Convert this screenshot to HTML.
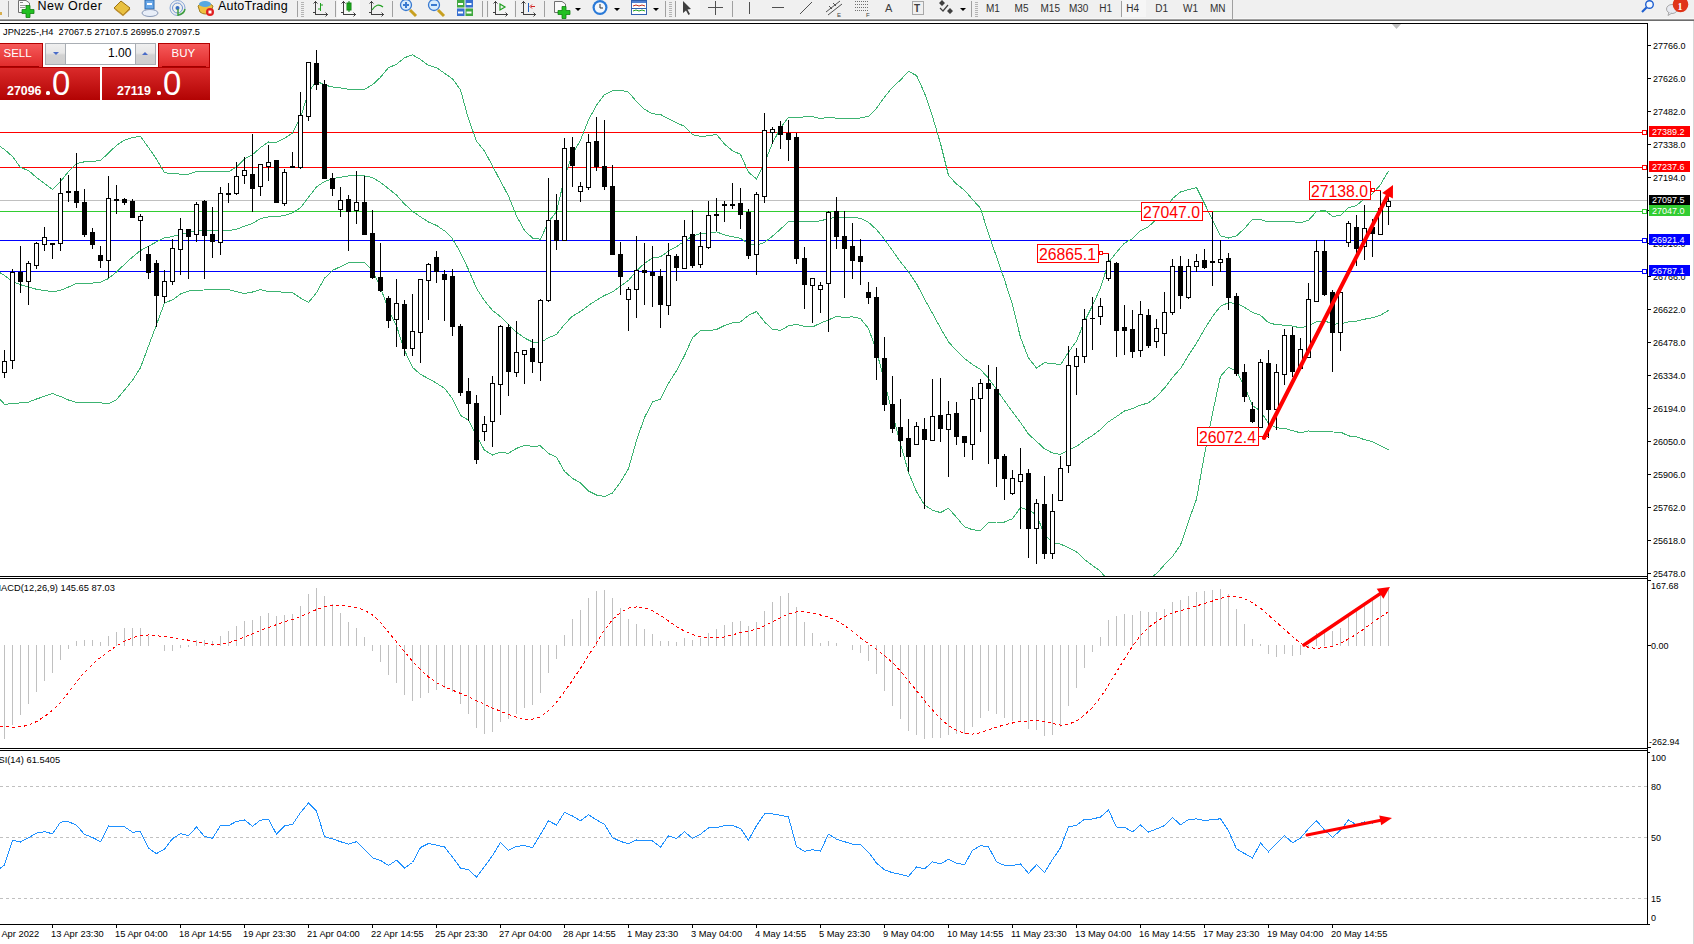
<!DOCTYPE html>
<html><head><meta charset="utf-8"><style>
html,body{margin:0;padding:0;}
body{width:1694px;height:944px;overflow:hidden;position:relative;background:#fff;font-family:"Liberation Sans", sans-serif;}
.tb{position:absolute;left:0;top:0;width:1694px;height:19px;background:#f0f0f0;}
.tbl1{position:absolute;left:0;top:19px;width:1694px;height:1px;background:#a0a0a0;}
.tbl2{position:absolute;left:0;top:20px;width:1694px;height:1px;background:#6d6d6d;}
.rb{position:absolute;left:1693px;top:21px;width:1px;height:923px;background:#d8d8d8;}
svg{position:absolute;left:0;top:0;}
.t{position:absolute;white-space:nowrap;}
</style></head><body>
<div class="tb"></div><div class="t" style="left:0;top:18px;width:1694px;height:1px;background:#f7f7f7;"></div><svg width="1694" height="19" viewBox="0 0 1694 19" style="position:absolute;left:0;top:0" font-family='"Liberation Sans", sans-serif'>
<rect x="0" y="12" width="2" height="3" fill="#d8b050"/>
<line x1="8.5" y1="1" x2="8.5" y2="17" stroke="#a0a0a0" shape-rendering="crispEdges"/>
<path d="M18.5,0.5 H26 L29.5,3 V12.5 H18.5 Z" fill="#fafafa" stroke="#707070"/>
<rect x="20" y="2" width="3" height="1" fill="#888"/><rect x="20" y="5" width="7" height="1" fill="#999"/><rect x="20" y="7" width="5" height="1" fill="#999"/>
<path d="M26,5.5 h4 v4 h4 v4 h-4 v4 h-4 v-4 h-4 v-4 h4 z" fill="#22c022" stroke="#108010" stroke-width="0.8"/>
<text x="37.5" y="10" font-size="12.5" fill="#000" letter-spacing="0.5">New Order</text>
<path d="M114,8 L121,1 L130,8 L123,15 Z" fill="#e8c040" stroke="#9a7010" stroke-width="1"/>
<path d="M115,9 L123,15.5 L130,9" fill="none" stroke="#c09030" stroke-width="1.2"/>
<rect x="145" y="0" width="9" height="9" fill="#6aa8e8" stroke="#2a6ab0"/>
<rect x="147" y="3" width="5" height="2" fill="#fff"/>
<ellipse cx="150" cy="13" rx="8" ry="3.5" fill="#e8eef8" stroke="#8a9ab8"/>
<circle cx="177.5" cy="8" r="7.5" fill="none" stroke="#8aa8d8" stroke-width="1"/>
<circle cx="177.5" cy="8" r="5" fill="none" stroke="#6a90d0" stroke-width="1"/>
<circle cx="177.5" cy="8" r="2" fill="#3a70c0"/>
<path d="M178,9 V16 M178,15 Q184,14 185,9" fill="none" stroke="#40a040" stroke-width="1.5"/>
<path d="M198,6 Q205,-2 213,6 L211,12 Q205,16 200,12 Z" fill="#f0c040" stroke="#a08020"/>
<ellipse cx="205" cy="4" rx="6" ry="3" fill="#58a8e0"/>
<circle cx="210" cy="12" r="4" fill="#e02020"/><rect x="208.5" y="10.5" width="3" height="3" fill="#fff"/>
<text x="218" y="10" font-size="12.5" fill="#000" letter-spacing="0.2">AutoTrading</text>
<line x1="297.5" y1="1" x2="297.5" y2="17" stroke="#a0a0a0" shape-rendering="crispEdges"/>
<rect x="301" y="2" width="3" height="1" fill="#b4b4b4"/>
<rect x="301" y="4" width="3" height="1" fill="#b4b4b4"/>
<rect x="301" y="6" width="3" height="1" fill="#b4b4b4"/>
<rect x="301" y="8" width="3" height="1" fill="#b4b4b4"/>
<rect x="301" y="10" width="3" height="1" fill="#b4b4b4"/>
<rect x="301" y="12" width="3" height="1" fill="#b4b4b4"/>
<rect x="301" y="14" width="3" height="1" fill="#b4b4b4"/>
<rect x="301" y="16" width="3" height="1" fill="#b4b4b4"/>
<path d="M315.5,1 V14.5 H327.5 M313,12.5 H315.5" fill="none" stroke="#404040" stroke-width="1" shape-rendering="crispEdges"/>
<path d="M313.5,3.5 L315.5,1.5 L317.5,3.5 M325.5,12.5 L327.5,14.5 L325.5,16.5" fill="none" stroke="#404040" stroke-width="1"/>
<path d="M320.5,3 V11 M320.5,5 H323 M318,9 H320.5" stroke="#20a020" fill="none"/>
<line x1="335.5" y1="1" x2="335.5" y2="17" stroke="#a0a0a0" shape-rendering="crispEdges"/>
<rect x="337" y="0" width="23" height="18" fill="#f8f8f8"/>
<path d="M343.5,1 V14.5 H355.5 M341,12.5 H343.5" fill="none" stroke="#404040" stroke-width="1" shape-rendering="crispEdges"/>
<path d="M341.5,3.5 L343.5,1.5 L345.5,3.5 M353.5,12.5 L355.5,14.5 L353.5,16.5" fill="none" stroke="#404040" stroke-width="1"/>
<rect x="347" y="3" width="4" height="7" fill="#20c020" stroke="#108010"/><line x1="349" y1="1" x2="349" y2="12" stroke="#108010"/>
<path d="M371.5,1 V14.5 H383.5 M369,12.5 H371.5" fill="none" stroke="#404040" stroke-width="1" shape-rendering="crispEdges"/>
<path d="M369.5,3.5 L371.5,1.5 L373.5,3.5 M381.5,12.5 L383.5,14.5 L381.5,16.5" fill="none" stroke="#404040" stroke-width="1"/>
<path d="M372,10 Q377,2 383,7" fill="none" stroke="#20a020" stroke-width="1.2"/>
<line x1="392.5" y1="1" x2="392.5" y2="17" stroke="#a0a0a0" shape-rendering="crispEdges"/>
<line x1="410" y1="10" x2="416" y2="16" stroke="#c8a020" stroke-width="3"/>
<circle cx="406" cy="5" r="5.5" fill="#d8ecfc" stroke="#3a7ad0" stroke-width="1.3"/>
<rect x="403" y="4" width="6" height="2" fill="#3a7ad0"/>
<rect x="405" y="2" width="2" height="6" fill="#3a7ad0"/>
<line x1="438" y1="10" x2="444" y2="16" stroke="#c8a020" stroke-width="3"/>
<circle cx="434" cy="5" r="5.5" fill="#d8ecfc" stroke="#3a7ad0" stroke-width="1.3"/>
<rect x="431" y="4" width="6" height="2" fill="#3a7ad0"/>
<rect x="457" y="0" width="7.5" height="7.5" fill="#40a840"/><rect x="465.5" y="0" width="7.5" height="7.5" fill="#3870d0"/>
<rect x="457" y="8.5" width="7.5" height="7.5" fill="#3870d0"/><rect x="465.5" y="8.5" width="7.5" height="7.5" fill="#40a840"/>
<rect x="458" y="3" width="5" height="2" fill="#fff"/>
<rect x="466.5" y="3" width="5" height="2" fill="#fff"/>
<rect x="458" y="11.5" width="5" height="2" fill="#fff"/>
<rect x="466.5" y="11.5" width="5" height="2" fill="#fff"/>
<line x1="482.5" y1="1" x2="482.5" y2="17" stroke="#a0a0a0" shape-rendering="crispEdges"/>
<line x1="487.5" y1="1" x2="487.5" y2="17" stroke="#a0a0a0" shape-rendering="crispEdges"/>
<rect x="489" y="0" width="25" height="18" fill="#f4f4f4"/>
<path d="M495.5,1 V14.5 H507.5 M493,12.5 H495.5" fill="none" stroke="#404040" stroke-width="1" shape-rendering="crispEdges"/>
<path d="M493.5,3.5 L495.5,1.5 L497.5,3.5 M505.5,12.5 L507.5,14.5 L505.5,16.5" fill="none" stroke="#404040" stroke-width="1"/>
<polygon points="500,4 505,7 500,10" fill="none" stroke="#20a020" stroke-width="1.2"/>
<line x1="515.5" y1="1" x2="515.5" y2="17" stroke="#a0a0a0" shape-rendering="crispEdges"/>
<path d="M523.5,1 V14.5 H535.5 M521,12.5 H523.5" fill="none" stroke="#404040" stroke-width="1" shape-rendering="crispEdges"/>
<path d="M521.5,3.5 L523.5,1.5 L525.5,3.5 M533.5,12.5 L535.5,14.5 L533.5,16.5" fill="none" stroke="#404040" stroke-width="1"/>
<line x1="528.5" y1="3" x2="528.5" y2="12" stroke="#2060c0"/><path d="M535,6.5 H531 M532,4.5 L530,6.5 L532,8.5" stroke="#d02020" fill="none"/>
<line x1="544.5" y1="1" x2="544.5" y2="17" stroke="#a0a0a0" shape-rendering="crispEdges"/>
<path d="M554.5,1.5 H562 L565.5,4 V12.5 H554.5 Z" fill="#fafafa" stroke="#707070"/>
<path d="M562,6.5 h4 v4 h4 v4 h-4 v4 h-4 v-4 h-4 v-4 h4 z" fill="#22c022" stroke="#108010" stroke-width="0.8"/>
<polygon points="575,8 581,8 578,11" fill="#000"/>
<circle cx="600" cy="7.5" r="7.5" fill="#2a7ad8"/><circle cx="600" cy="7.5" r="5.3" fill="#f4f8fc"/><path d="M600,4 V8 H603" stroke="#333" fill="none"/>
<polygon points="614,8 620,8 617,11" fill="#000"/>
<rect x="631.5" y="0.5" width="15" height="14" fill="#fff" stroke="#3060b0"/><rect x="632" y="1" width="14" height="2" fill="#5080d0"/>
<path d="M633,6 l3,-1 l3,1 l3,-1 l3,1" stroke="#c03020" fill="none"/><path d="M633,11 l3,-1 l3,1 l3,-1 l3,1" stroke="#20a020" fill="none"/><line x1="632" y1="8.5" x2="646" y2="8.5" stroke="#3060b0"/>
<polygon points="653,8 659,8 656,11" fill="#000"/>
<line x1="665.5" y1="1" x2="665.5" y2="17" stroke="#a0a0a0" shape-rendering="crispEdges"/>
<rect x="669" y="2" width="3" height="1" fill="#b4b4b4"/>
<rect x="669" y="4" width="3" height="1" fill="#b4b4b4"/>
<rect x="669" y="6" width="3" height="1" fill="#b4b4b4"/>
<rect x="669" y="8" width="3" height="1" fill="#b4b4b4"/>
<rect x="669" y="10" width="3" height="1" fill="#b4b4b4"/>
<rect x="669" y="12" width="3" height="1" fill="#b4b4b4"/>
<rect x="669" y="14" width="3" height="1" fill="#b4b4b4"/>
<rect x="669" y="16" width="3" height="1" fill="#b4b4b4"/>
<line x1="675.5" y1="1" x2="675.5" y2="17" stroke="#a0a0a0" shape-rendering="crispEdges"/>
<rect x="676" y="0" width="24" height="18" fill="#f4f4f4"/>
<path d="M683,1 V13 L686,10.5 L688.5,15 L690,14 L687.5,9.5 L691,9 Z" fill="#404040"/>
<path d="M715.5,1 V15 M708,7.5 H723" stroke="#505050" fill="none" shape-rendering="crispEdges"/>
<line x1="732.5" y1="1" x2="732.5" y2="17" stroke="#a0a0a0" shape-rendering="crispEdges"/>
<line x1="749.5" y1="2" x2="749.5" y2="14" stroke="#505050" shape-rendering="crispEdges"/>
<line x1="772" y1="7.5" x2="784" y2="7.5" stroke="#505050" shape-rendering="crispEdges"/>
<line x1="800" y1="14" x2="812" y2="2" stroke="#505050"/>
<path d="M826,12 L840,1 M828,15 L842,4 M829,6 l3,3 M833,3 l3,3" stroke="#505050" fill="none"/><text x="837" y="17" font-size="6" fill="#404040">E</text>
<line x1="855" y1="1.5" x2="868" y2="1.5" stroke="#707070" stroke-dasharray="1,1"/>
<line x1="855" y1="4.5" x2="868" y2="4.5" stroke="#707070" stroke-dasharray="1,1"/>
<line x1="855" y1="7.5" x2="868" y2="7.5" stroke="#707070" stroke-dasharray="1,1"/>
<line x1="855" y1="10.5" x2="868" y2="10.5" stroke="#707070" stroke-dasharray="1,1"/>
<text x="866" y="17" font-size="6" fill="#404040">F</text>
<text x="885" y="12" font-size="11" fill="#404040">A</text>
<rect x="912.5" y="1.5" width="11" height="13" fill="none" stroke="#606060" stroke-dasharray="1,1"/><text x="914" y="12" font-size="10" font-weight="bold" fill="#404040">T</text>
<path d="M939,3 l3,-3 l3,3 l-3,3 z M947,11 l3,-3 l3,3 l-3,3 z" fill="#404040"/><path d="M940,8 l3,3 l5,-6" stroke="#404040" fill="none" stroke-width="1.2"/>
<polygon points="960,8 966,8 963,11" fill="#000"/>
<line x1="971.5" y1="1" x2="971.5" y2="17" stroke="#a0a0a0" shape-rendering="crispEdges"/>
<rect x="975" y="2" width="3" height="1" fill="#b4b4b4"/>
<rect x="975" y="4" width="3" height="1" fill="#b4b4b4"/>
<rect x="975" y="6" width="3" height="1" fill="#b4b4b4"/>
<rect x="975" y="8" width="3" height="1" fill="#b4b4b4"/>
<rect x="975" y="10" width="3" height="1" fill="#b4b4b4"/>
<rect x="975" y="12" width="3" height="1" fill="#b4b4b4"/>
<rect x="975" y="14" width="3" height="1" fill="#b4b4b4"/>
<rect x="975" y="16" width="3" height="1" fill="#b4b4b4"/>
<rect x="1122" y="0" width="24" height="17" fill="#f6f6f6"/>
<line x1="1121.5" y1="1" x2="1121.5" y2="17" stroke="#a0a0a0" shape-rendering="crispEdges"/>
<text x="986" y="12" font-size="10" fill="#303030">M1</text>
<text x="1014.6" y="12" font-size="10" fill="#303030">M5</text>
<text x="1040.5" y="12" font-size="10" fill="#303030">M15</text>
<text x="1068.9" y="12" font-size="10" fill="#303030">M30</text>
<text x="1099.3" y="12" font-size="10" fill="#303030">H1</text>
<text x="1126.3" y="12" font-size="10" fill="#303030">H4</text>
<text x="1155.3" y="12" font-size="10" fill="#303030">D1</text>
<text x="1183" y="12" font-size="10" fill="#303030">W1</text>
<text x="1209.9" y="12" font-size="10" fill="#303030">MN</text>
<line x1="1232.5" y1="0" x2="1232.5" y2="19" stroke="#a0a0a0" shape-rendering="crispEdges"/>
<circle cx="1649.5" cy="4.5" r="3.8" fill="#f4f8ff" stroke="#2060d0" stroke-width="1.4"/><line x1="1646.5" y1="7.5" x2="1642" y2="12" stroke="#2060d0" stroke-width="2.2"/>
<ellipse cx="1672" cy="9" rx="5.5" ry="4.5" fill="#e8eaf0" stroke="#a8a8a8"/><path d="M1669,12 L1668,15.5 L1672,13" fill="#e8eaf0" stroke="#a8a8a8"/>
<circle cx="1680.5" cy="4.5" r="7.8" fill="#e03418"/><text x="1677.5" y="9.5" font-size="10" font-family="Liberation Serif" font-weight="bold" fill="#fff">1</text>
</svg><div class="tbl1"></div><div class="tbl2"></div>
<div class="rb"></div>
<svg width="1694" height="944" viewBox="0 0 1694 944" font-family='"Liberation Sans", sans-serif'>
<defs><clipPath id="cm"><rect x="0" y="24" width="1647" height="552"/></clipPath><clipPath id="cd"><rect x="0" y="579" width="1647" height="169"/></clipPath><clipPath id="cr"><rect x="0" y="751" width="1647" height="173"/></clipPath></defs>
<g clip-path="url(#cm)" shape-rendering="crispEdges">
<line x1="0" y1="132.5" x2="1647" y2="132.5" stroke="#ff0000" stroke-width="1"/>
<line x1="0" y1="167.5" x2="1647" y2="167.5" stroke="#ff0000" stroke-width="1"/>
<line x1="0" y1="200.5" x2="1647" y2="200.5" stroke="#c0c0c0" stroke-width="1"/>
<line x1="0" y1="211.5" x2="1647" y2="211.5" stroke="#32cd32" stroke-width="1"/>
<line x1="0" y1="240.5" x2="1647" y2="240.5" stroke="#0000ff" stroke-width="1"/>
<line x1="0" y1="271.5" x2="1647" y2="271.5" stroke="#0000ff" stroke-width="1"/>
<rect x="1642.5" y="130.5" width="4" height="4" fill="#fff" stroke="#ff0000"/>
<rect x="1642.5" y="165.5" width="4" height="4" fill="#fff" stroke="#ff0000"/>
<rect x="1642.5" y="209.5" width="4" height="4" fill="#fff" stroke="#32cd32"/>
<rect x="1642.5" y="238.5" width="4" height="4" fill="#fff" stroke="#0000ff"/>
<rect x="1642.5" y="269.5" width="4" height="4" fill="#fff" stroke="#0000ff"/>
</g>
<g clip-path="url(#cm)" fill="none" stroke="#3cb371" stroke-width="1" shape-rendering="crispEdges">
<polyline points="0,146.5 4.5,149.5 12.5,156.5 20.5,167.5 28.5,170.5 36.5,177.5 44.5,183.5 52.5,189.5 60.5,181.5 68.5,171.5 76.5,163.5 84.5,161.8 92.5,161.5 100.5,160.5 108.5,153.1 116.5,145.3 124.5,140.1 132.5,137.5 140.5,136.5 148.5,147.5 156.5,159.1 164.5,172.8 172.5,173.4 180.5,174.1 188.5,174.3 196.5,171.4 204.5,171.4 212.5,171.3 220.5,171.3 228.5,171.7 236.5,167.0 244.5,158.9 252.5,154.7 260.5,147.6 268.5,142.0 276.5,142.2 284.5,138.4 292.5,133.1 300.5,117.6 308.5,92.1 316.5,80.9 324.5,85.1 332.5,86.9 340.5,87.9 348.5,89.3 356.5,89.4 364.5,89.4 372.5,84.7 380.5,77.3 388.5,67.7 396.5,64.3 404.5,57.7 412.5,54.9 420.5,59.5 428.5,65.4 436.5,67.6 444.5,73.3 452.5,78.8 460.5,89.8 468.5,119.0 476.5,141.1 484.5,151.0 492.5,165.9 500.5,181.1 508.5,196.0 516.5,215.9 524.5,230.5 532.5,238.0 540.5,239.3 548.5,221.7 556.5,211.8 564.5,177.6 572.5,153.8 580.5,140.2 588.5,119.9 596.5,105.3 604.5,94.6 612.5,90.7 620.5,90.2 628.5,92.1 636.5,101.5 644.5,109.2 652.5,113.8 660.5,114.5 668.5,118.8 676.5,122.7 684.5,126.4 692.5,134.8 700.5,136.3 708.5,135.9 716.5,134.3 724.5,144.1 732.5,150.7 740.5,154.4 748.5,172.2 756.5,178.9 764.5,163.0 772.5,143.1 780.5,127.9 788.5,117.3 796.5,117.7 804.5,116.9 812.5,116.7 820.5,118.5 828.5,117.5 836.5,118.1 844.5,118.1 852.5,118.3 860.5,118.0 868.5,116.3 876.5,108.3 884.5,97.0 892.5,87.3 900.5,80.0 908.5,71.4 916.5,75.5 924.5,92.9 932.5,116.6 940.5,143.5 948.5,175.5 956.5,184.0 964.5,190.2 972.5,199.5 980.5,208.3 988.5,233.9 996.5,256.8 1004.5,279.8 1012.5,304.9 1020.5,337.5 1028.5,358.0 1036.5,368.0 1044.5,362.8 1052.5,363.4 1060.5,364.8 1068.5,352.3 1076.5,341.0 1084.5,321.5 1092.5,305.5 1100.5,287.8 1108.5,262.4 1116.5,252.3 1124.5,243.1 1132.5,238.7 1140.5,230.7 1148.5,226.6 1156.5,219.3 1164.5,211.5 1172.5,198.6 1180.5,192.0 1188.5,189.6 1196.5,187.6 1204.5,203.5 1212.5,220.0 1220.5,235.9 1228.5,238.0 1236.5,235.8 1244.5,228.5 1252.5,219.3 1260.5,219.6 1268.5,221.9 1276.5,221.7 1284.5,221.9 1292.5,221.5 1300.5,222.9 1308.5,220.3 1316.5,211.6 1324.5,210.2 1332.5,216.2 1340.5,215.8 1348.5,207.8 1356.5,205.5 1364.5,198.7 1372.5,193.8 1380.5,184.7 1388.5,170.8"/>
<polyline points="0,272.7 4.5,275.5 12.5,281.5 20.5,284.7 28.5,287.0 36.5,289.3 44.5,290.5 52.5,291.8 60.5,290.3 68.5,287.0 76.5,283.3 84.5,283.1 92.5,283.1 100.5,282.3 108.5,278.5 116.5,272.0 124.5,264.3 132.5,257.0 140.5,250.5 148.5,246.2 156.5,241.9 164.5,237.9 172.5,236.6 180.5,234.1 188.5,232.7 196.5,230.8 204.5,230.7 212.5,230.5 220.5,230.5 228.5,230.6 236.5,229.3 244.5,226.2 252.5,223.4 260.5,218.6 268.5,216.8 276.5,216.9 284.5,215.4 292.5,212.9 300.5,207.8 308.5,197.3 316.5,186.8 324.5,181.6 332.5,178.7 340.5,177.2 348.5,176.0 356.5,175.9 364.5,175.8 372.5,177.6 380.5,182.4 388.5,188.7 396.5,195.1 404.5,204.0 412.5,211.2 420.5,216.9 428.5,222.0 436.5,225.4 444.5,230.8 452.5,238.8 460.5,252.6 468.5,269.6 476.5,288.3 484.5,300.7 492.5,310.4 500.5,316.7 508.5,324.7 516.5,332.2 524.5,337.9 532.5,342.1 540.5,342.6 548.5,337.7 556.5,334.5 564.5,324.4 572.5,316.1 580.5,311.5 588.5,305.4 596.5,300.2 604.5,295.5 612.5,291.9 620.5,286.1 628.5,280.4 636.5,271.0 644.5,263.3 652.5,257.9 660.5,256.8 668.5,251.0 676.5,246.7 684.5,241.0 692.5,236.2 700.5,233.5 708.5,233.2 716.5,231.9 724.5,234.8 732.5,236.8 740.5,238.2 748.5,243.8 756.5,245.2 764.5,242.4 772.5,236.2 780.5,229.1 788.5,221.6 796.5,221.0 804.5,221.6 812.5,221.8 820.5,220.8 828.5,218.7 836.5,217.2 844.5,217.8 852.5,217.5 860.5,218.3 868.5,222.4 876.5,229.5 884.5,239.4 892.5,250.6 900.5,261.9 908.5,271.9 916.5,283.6 924.5,299.0 932.5,313.4 940.5,328.1 948.5,341.8 956.5,350.7 964.5,358.5 972.5,364.6 980.5,369.5 988.5,378.3 996.5,389.4 1004.5,400.9 1012.5,411.8 1020.5,422.5 1028.5,434.1 1036.5,441.4 1044.5,448.8 1052.5,453.0 1060.5,454.4 1068.5,449.9 1076.5,446.4 1084.5,440.5 1092.5,435.6 1100.5,429.5 1108.5,421.8 1116.5,416.5 1124.5,411.0 1132.5,408.5 1140.5,405.1 1148.5,402.9 1156.5,396.5 1164.5,388.1 1172.5,377.5 1180.5,368.5 1188.5,355.4 1196.5,343.3 1204.5,329.0 1212.5,316.6 1220.5,306.1 1228.5,302.7 1236.5,303.5 1244.5,307.3 1252.5,312.5 1260.5,315.3 1268.5,322.7 1276.5,324.8 1284.5,325.1 1292.5,326.1 1300.5,327.9 1308.5,325.6 1316.5,321.7 1324.5,320.8 1332.5,324.1 1340.5,323.9 1348.5,321.8 1356.5,321.2 1364.5,319.2 1372.5,317.7 1380.5,315.2 1388.5,310.4"/>
<polyline points="0,399.2 4.5,404.3 12.5,403.7 20.5,402.8 28.5,402.1 36.5,399.0 44.5,396.3 52.5,393.6 60.5,396.5 68.5,400.0 76.5,402.5 84.5,402.7 92.5,402.8 100.5,402.9 108.5,403.7 116.5,399.7 124.5,390.0 132.5,380.3 140.5,367.7 148.5,346.0 156.5,324.6 164.5,302.9 172.5,299.9 180.5,294.0 188.5,291.1 196.5,290.1 204.5,290.0 212.5,289.7 220.5,289.7 228.5,289.5 236.5,291.7 244.5,293.5 252.5,292.0 260.5,289.6 268.5,291.6 276.5,291.6 284.5,292.3 292.5,292.6 300.5,298.0 308.5,302.4 316.5,292.7 324.5,278.2 332.5,270.4 340.5,266.6 348.5,262.6 356.5,262.4 364.5,262.2 372.5,270.5 380.5,287.6 388.5,309.8 396.5,325.9 404.5,350.3 412.5,367.4 420.5,374.4 428.5,378.6 436.5,383.2 444.5,388.3 452.5,398.7 460.5,415.4 468.5,420.3 476.5,435.6 484.5,450.3 492.5,455.0 500.5,452.3 508.5,453.3 516.5,448.4 524.5,445.4 532.5,446.3 540.5,445.9 548.5,453.6 556.5,457.2 564.5,471.3 572.5,478.4 580.5,482.8 588.5,491.0 596.5,495.0 604.5,496.5 612.5,493.0 620.5,482.0 628.5,468.7 636.5,440.5 644.5,417.5 652.5,402.0 660.5,399.2 668.5,383.2 676.5,370.7 684.5,355.6 692.5,337.6 700.5,330.7 708.5,330.6 716.5,329.5 724.5,325.5 732.5,322.9 740.5,321.9 748.5,315.4 756.5,311.5 764.5,321.9 772.5,329.3 780.5,330.3 788.5,325.9 796.5,324.3 804.5,326.4 812.5,326.9 820.5,323.2 828.5,319.9 836.5,316.3 844.5,317.5 852.5,316.8 860.5,318.6 868.5,328.4 876.5,350.8 884.5,381.8 892.5,413.9 900.5,443.8 908.5,472.4 916.5,491.6 924.5,505.1 932.5,510.1 940.5,512.6 948.5,508.2 956.5,517.3 964.5,526.9 972.5,529.7 980.5,530.7 988.5,522.7 996.5,522.0 1004.5,522.0 1012.5,518.7 1020.5,507.6 1028.5,510.2 1036.5,514.7 1044.5,534.8 1052.5,542.7 1060.5,544.1 1068.5,547.6 1076.5,551.8 1084.5,559.5 1092.5,565.6 1100.5,571.2 1108.5,581.3 1116.5,580.7 1124.5,578.8 1132.5,578.3 1140.5,579.5 1148.5,579.2 1156.5,573.6 1164.5,564.7 1172.5,556.5 1180.5,545.1 1188.5,521.3 1196.5,499.1 1204.5,454.6 1212.5,413.2 1220.5,376.3 1228.5,367.4 1236.5,371.2 1244.5,386.2 1252.5,405.7 1260.5,411.0 1268.5,423.5 1276.5,427.9 1284.5,428.3 1292.5,430.7 1300.5,432.8 1308.5,430.9 1316.5,431.8 1324.5,431.5 1332.5,432.0 1340.5,432.1 1348.5,435.9 1356.5,436.8 1364.5,439.7 1372.5,441.6 1380.5,445.6 1388.5,449.9"/>
</g>
<g clip-path="url(#cm)" shape-rendering="crispEdges">
<line x1="4.5" y1="350" x2="4.5" y2="378" stroke="#000"/>
<rect x="2.5" y="361.5" width="4" height="11" fill="#fff" stroke="#000"/>
<line x1="12.5" y1="269" x2="12.5" y2="369" stroke="#000"/>
<rect x="10.5" y="272.5" width="4" height="88" fill="#fff" stroke="#000"/>
<line x1="20.5" y1="246" x2="20.5" y2="293" stroke="#000"/>
<rect x="18" y="272" width="5" height="10" fill="#000"/>
<line x1="28.5" y1="261" x2="28.5" y2="305" stroke="#000"/>
<rect x="26.5" y="263.5" width="4" height="18" fill="#fff" stroke="#000"/>
<line x1="36.5" y1="242" x2="36.5" y2="269" stroke="#000"/>
<rect x="34.5" y="243.5" width="4" height="22" fill="#fff" stroke="#000"/>
<line x1="44.5" y1="227" x2="44.5" y2="251" stroke="#000"/>
<rect x="42.5" y="237.5" width="4" height="7" fill="#fff" stroke="#000"/>
<line x1="52.5" y1="243" x2="52.5" y2="259" stroke="#000"/>
<rect x="50" y="243" width="5" height="2" fill="#000"/>
<line x1="60.5" y1="178" x2="60.5" y2="251" stroke="#000"/>
<rect x="58.5" y="193.5" width="4" height="50" fill="#fff" stroke="#000"/>
<line x1="68.5" y1="175" x2="68.5" y2="202" stroke="#000"/>
<rect x="66.5" y="191.5" width="4" height="1" fill="#fff" stroke="#000"/>
<line x1="76.5" y1="153" x2="76.5" y2="208" stroke="#000"/>
<rect x="74" y="191" width="5" height="12" fill="#000"/>
<line x1="84.5" y1="189" x2="84.5" y2="237" stroke="#000"/>
<rect x="82" y="202" width="5" height="33" fill="#000"/>
<line x1="92.5" y1="228" x2="92.5" y2="249" stroke="#000"/>
<rect x="90" y="232" width="5" height="13" fill="#000"/>
<line x1="100.5" y1="246" x2="100.5" y2="268" stroke="#000"/>
<rect x="98" y="255" width="5" height="6" fill="#000"/>
<line x1="108.5" y1="176" x2="108.5" y2="278" stroke="#000"/>
<rect x="106.5" y="198.5" width="4" height="62" fill="#fff" stroke="#000"/>
<line x1="116.5" y1="185" x2="116.5" y2="214" stroke="#000"/>
<rect x="114" y="199" width="5" height="2" fill="#000"/>
<line x1="124.5" y1="198" x2="124.5" y2="205" stroke="#000"/>
<rect x="122" y="199" width="5" height="4" fill="#000"/>
<line x1="132.5" y1="199" x2="132.5" y2="218" stroke="#000"/>
<rect x="130" y="201" width="5" height="17" fill="#000"/>
<line x1="140.5" y1="214" x2="140.5" y2="261" stroke="#000"/>
<rect x="138.5" y="216.5" width="4" height="4" fill="#fff" stroke="#000"/>
<line x1="148.5" y1="246" x2="148.5" y2="279" stroke="#000"/>
<rect x="146" y="254" width="5" height="19" fill="#000"/>
<line x1="156.5" y1="260" x2="156.5" y2="327" stroke="#000"/>
<rect x="154" y="263" width="5" height="33" fill="#000"/>
<line x1="164.5" y1="270" x2="164.5" y2="303" stroke="#000"/>
<rect x="162.5" y="281.5" width="4" height="15" fill="#fff" stroke="#000"/>
<line x1="172.5" y1="239" x2="172.5" y2="285" stroke="#000"/>
<rect x="170.5" y="248.5" width="4" height="33" fill="#fff" stroke="#000"/>
<line x1="180.5" y1="218" x2="180.5" y2="275" stroke="#000"/>
<rect x="178.5" y="229.5" width="4" height="20" fill="#fff" stroke="#000"/>
<line x1="188.5" y1="229" x2="188.5" y2="279" stroke="#000"/>
<rect x="186" y="229" width="5" height="8" fill="#000"/>
<line x1="196.5" y1="202" x2="196.5" y2="242" stroke="#000"/>
<rect x="194.5" y="204.5" width="4" height="30" fill="#fff" stroke="#000"/>
<line x1="204.5" y1="200" x2="204.5" y2="279" stroke="#000"/>
<rect x="202" y="201" width="5" height="35" fill="#000"/>
<line x1="212.5" y1="207" x2="212.5" y2="258" stroke="#000"/>
<rect x="210" y="234" width="5" height="8" fill="#000"/>
<line x1="220.5" y1="187" x2="220.5" y2="255" stroke="#000"/>
<rect x="218.5" y="193.5" width="4" height="49" fill="#fff" stroke="#000"/>
<line x1="228.5" y1="183" x2="228.5" y2="203" stroke="#000"/>
<rect x="226" y="193" width="5" height="2" fill="#000"/>
<line x1="236.5" y1="162" x2="236.5" y2="195" stroke="#000"/>
<rect x="234.5" y="176.5" width="4" height="17" fill="#fff" stroke="#000"/>
<line x1="244.5" y1="157" x2="244.5" y2="184" stroke="#000"/>
<rect x="242.5" y="170.5" width="4" height="5" fill="#fff" stroke="#000"/>
<line x1="252.5" y1="134" x2="252.5" y2="212" stroke="#000"/>
<rect x="250" y="174" width="5" height="15" fill="#000"/>
<line x1="260.5" y1="164" x2="260.5" y2="196" stroke="#000"/>
<rect x="258.5" y="164.5" width="4" height="22" fill="#fff" stroke="#000"/>
<line x1="268.5" y1="145" x2="268.5" y2="181" stroke="#000"/>
<rect x="266.5" y="162.5" width="4" height="4" fill="#fff" stroke="#000"/>
<line x1="276.5" y1="160" x2="276.5" y2="203" stroke="#000"/>
<rect x="274" y="160" width="5" height="43" fill="#000"/>
<line x1="284.5" y1="169" x2="284.5" y2="206" stroke="#000"/>
<rect x="282.5" y="172.5" width="4" height="31" fill="#fff" stroke="#000"/>
<line x1="292.5" y1="152" x2="292.5" y2="168" stroke="#000"/>
<rect x="290" y="166" width="5" height="2" fill="#000"/>
<line x1="300.5" y1="92" x2="300.5" y2="169" stroke="#000"/>
<rect x="298.5" y="115.5" width="4" height="52" fill="#fff" stroke="#000"/>
<line x1="308.5" y1="62" x2="308.5" y2="121" stroke="#000"/>
<rect x="306.5" y="62.5" width="4" height="54" fill="#fff" stroke="#000"/>
<line x1="316.5" y1="50" x2="316.5" y2="90" stroke="#000"/>
<rect x="314" y="63" width="5" height="22" fill="#000"/>
<line x1="324.5" y1="80" x2="324.5" y2="179" stroke="#000"/>
<rect x="322" y="84" width="5" height="95" fill="#000"/>
<line x1="332.5" y1="173" x2="332.5" y2="196" stroke="#000"/>
<rect x="330" y="178" width="5" height="11" fill="#000"/>
<line x1="340.5" y1="187" x2="340.5" y2="217" stroke="#000"/>
<rect x="338.5" y="200.5" width="4" height="9" fill="#fff" stroke="#000"/>
<line x1="348.5" y1="195" x2="348.5" y2="251" stroke="#000"/>
<rect x="346" y="199" width="5" height="13" fill="#000"/>
<line x1="356.5" y1="171" x2="356.5" y2="224" stroke="#000"/>
<rect x="354.5" y="202.5" width="4" height="8" fill="#fff" stroke="#000"/>
<line x1="364.5" y1="176" x2="364.5" y2="235" stroke="#000"/>
<rect x="362" y="202" width="5" height="33" fill="#000"/>
<line x1="372.5" y1="210" x2="372.5" y2="279" stroke="#000"/>
<rect x="370" y="233" width="5" height="45" fill="#000"/>
<line x1="380.5" y1="243" x2="380.5" y2="292" stroke="#000"/>
<rect x="378" y="277" width="5" height="14" fill="#000"/>
<line x1="388.5" y1="296" x2="388.5" y2="328" stroke="#000"/>
<rect x="386" y="298" width="5" height="23" fill="#000"/>
<line x1="396.5" y1="279" x2="396.5" y2="347" stroke="#000"/>
<rect x="394.5" y="303.5" width="4" height="16" fill="#fff" stroke="#000"/>
<line x1="404.5" y1="300" x2="404.5" y2="356" stroke="#000"/>
<rect x="402" y="304" width="5" height="45" fill="#000"/>
<line x1="412.5" y1="294" x2="412.5" y2="356" stroke="#000"/>
<rect x="410.5" y="331.5" width="4" height="17" fill="#fff" stroke="#000"/>
<line x1="420.5" y1="279" x2="420.5" y2="363" stroke="#000"/>
<rect x="418.5" y="279.5" width="4" height="53" fill="#fff" stroke="#000"/>
<line x1="428.5" y1="263" x2="428.5" y2="320" stroke="#000"/>
<rect x="426.5" y="264.5" width="4" height="16" fill="#fff" stroke="#000"/>
<line x1="436.5" y1="251" x2="436.5" y2="283" stroke="#000"/>
<rect x="434" y="257" width="5" height="15" fill="#000"/>
<line x1="444.5" y1="270" x2="444.5" y2="321" stroke="#000"/>
<rect x="442" y="274" width="5" height="6" fill="#000"/>
<line x1="452.5" y1="269" x2="452.5" y2="336" stroke="#000"/>
<rect x="450" y="276" width="5" height="51" fill="#000"/>
<line x1="460.5" y1="324" x2="460.5" y2="396" stroke="#000"/>
<rect x="458" y="326" width="5" height="67" fill="#000"/>
<line x1="468.5" y1="378" x2="468.5" y2="421" stroke="#000"/>
<rect x="466" y="391" width="5" height="13" fill="#000"/>
<line x1="476.5" y1="395" x2="476.5" y2="464" stroke="#000"/>
<rect x="474" y="403" width="5" height="57" fill="#000"/>
<line x1="484.5" y1="416" x2="484.5" y2="441" stroke="#000"/>
<rect x="482.5" y="424.5" width="4" height="7" fill="#fff" stroke="#000"/>
<line x1="492.5" y1="376" x2="492.5" y2="447" stroke="#000"/>
<rect x="490.5" y="383.5" width="4" height="38" fill="#fff" stroke="#000"/>
<line x1="500.5" y1="325" x2="500.5" y2="415" stroke="#000"/>
<rect x="498.5" y="326.5" width="4" height="58" fill="#fff" stroke="#000"/>
<line x1="508.5" y1="324" x2="508.5" y2="396" stroke="#000"/>
<rect x="506" y="327" width="5" height="45" fill="#000"/>
<line x1="516.5" y1="321" x2="516.5" y2="377" stroke="#000"/>
<rect x="514.5" y="352.5" width="4" height="20" fill="#fff" stroke="#000"/>
<line x1="524.5" y1="350" x2="524.5" y2="384" stroke="#000"/>
<rect x="522.5" y="350.5" width="4" height="4" fill="#fff" stroke="#000"/>
<line x1="532.5" y1="339" x2="532.5" y2="373" stroke="#000"/>
<rect x="530" y="348" width="5" height="14" fill="#000"/>
<line x1="540.5" y1="299" x2="540.5" y2="381" stroke="#000"/>
<rect x="538.5" y="300.5" width="4" height="62" fill="#fff" stroke="#000"/>
<line x1="548.5" y1="178" x2="548.5" y2="302" stroke="#000"/>
<rect x="546.5" y="220.5" width="4" height="80" fill="#fff" stroke="#000"/>
<line x1="556.5" y1="194" x2="556.5" y2="250" stroke="#000"/>
<rect x="554" y="220" width="5" height="21" fill="#000"/>
<line x1="564.5" y1="138" x2="564.5" y2="241" stroke="#000"/>
<rect x="562.5" y="148.5" width="4" height="92" fill="#fff" stroke="#000"/>
<line x1="572.5" y1="137" x2="572.5" y2="187" stroke="#000"/>
<rect x="570" y="147" width="5" height="19" fill="#000"/>
<line x1="580.5" y1="182" x2="580.5" y2="202" stroke="#000"/>
<rect x="578.5" y="186.5" width="4" height="5" fill="#fff" stroke="#000"/>
<line x1="588.5" y1="134" x2="588.5" y2="190" stroke="#000"/>
<rect x="586.5" y="142.5" width="4" height="45" fill="#fff" stroke="#000"/>
<line x1="596.5" y1="117" x2="596.5" y2="171" stroke="#000"/>
<rect x="594" y="141" width="5" height="26" fill="#000"/>
<line x1="604.5" y1="120" x2="604.5" y2="190" stroke="#000"/>
<rect x="602" y="166" width="5" height="21" fill="#000"/>
<line x1="612.5" y1="165" x2="612.5" y2="255" stroke="#000"/>
<rect x="610" y="186" width="5" height="69" fill="#000"/>
<line x1="620.5" y1="242" x2="620.5" y2="295" stroke="#000"/>
<rect x="618" y="254" width="5" height="23" fill="#000"/>
<line x1="628.5" y1="287" x2="628.5" y2="331" stroke="#000"/>
<rect x="626.5" y="289.5" width="4" height="10" fill="#fff" stroke="#000"/>
<line x1="636.5" y1="236" x2="636.5" y2="318" stroke="#000"/>
<rect x="634.5" y="270.5" width="4" height="19" fill="#fff" stroke="#000"/>
<line x1="644.5" y1="243" x2="644.5" y2="305" stroke="#000"/>
<rect x="642" y="270" width="5" height="3" fill="#000"/>
<line x1="652.5" y1="246" x2="652.5" y2="307" stroke="#000"/>
<rect x="650" y="272" width="5" height="4" fill="#000"/>
<line x1="660.5" y1="269" x2="660.5" y2="328" stroke="#000"/>
<rect x="658" y="276" width="5" height="29" fill="#000"/>
<line x1="668.5" y1="243" x2="668.5" y2="315" stroke="#000"/>
<rect x="666.5" y="255.5" width="4" height="50" fill="#fff" stroke="#000"/>
<line x1="676.5" y1="254" x2="676.5" y2="281" stroke="#000"/>
<rect x="674" y="256" width="5" height="12" fill="#000"/>
<line x1="684.5" y1="220" x2="684.5" y2="269" stroke="#000"/>
<rect x="682.5" y="236.5" width="4" height="32" fill="#fff" stroke="#000"/>
<line x1="692.5" y1="210" x2="692.5" y2="268" stroke="#000"/>
<rect x="690" y="234" width="5" height="32" fill="#000"/>
<line x1="700.5" y1="232" x2="700.5" y2="268" stroke="#000"/>
<rect x="698.5" y="246.5" width="4" height="18" fill="#fff" stroke="#000"/>
<line x1="708.5" y1="201" x2="708.5" y2="249" stroke="#000"/>
<rect x="706.5" y="215.5" width="4" height="32" fill="#fff" stroke="#000"/>
<line x1="716.5" y1="198" x2="716.5" y2="231" stroke="#000"/>
<rect x="714.5" y="214.5" width="4" height="1" fill="#fff" stroke="#000"/>
<line x1="724.5" y1="201" x2="724.5" y2="222" stroke="#000"/>
<rect x="722" y="204" width="5" height="2" fill="#000"/>
<line x1="732.5" y1="183" x2="732.5" y2="209" stroke="#000"/>
<rect x="730" y="204" width="5" height="2" fill="#000"/>
<line x1="740.5" y1="188" x2="740.5" y2="229" stroke="#000"/>
<rect x="738" y="203" width="5" height="12" fill="#000"/>
<line x1="748.5" y1="209" x2="748.5" y2="259" stroke="#000"/>
<rect x="746" y="212" width="5" height="44" fill="#000"/>
<line x1="756.5" y1="192" x2="756.5" y2="275" stroke="#000"/>
<rect x="754.5" y="194.5" width="4" height="60" fill="#fff" stroke="#000"/>
<line x1="764.5" y1="113" x2="764.5" y2="203" stroke="#000"/>
<rect x="762.5" y="130.5" width="4" height="66" fill="#fff" stroke="#000"/>
<line x1="772.5" y1="127" x2="772.5" y2="144" stroke="#000"/>
<rect x="770.5" y="129.5" width="4" height="3" fill="#fff" stroke="#000"/>
<line x1="780.5" y1="121" x2="780.5" y2="149" stroke="#000"/>
<rect x="778" y="126" width="5" height="9" fill="#000"/>
<line x1="788.5" y1="120" x2="788.5" y2="161" stroke="#000"/>
<rect x="786" y="133" width="5" height="7" fill="#000"/>
<line x1="796.5" y1="133" x2="796.5" y2="264" stroke="#000"/>
<rect x="794" y="137" width="5" height="122" fill="#000"/>
<line x1="804.5" y1="247" x2="804.5" y2="309" stroke="#000"/>
<rect x="802" y="258" width="5" height="27" fill="#000"/>
<line x1="812.5" y1="278" x2="812.5" y2="323" stroke="#000"/>
<rect x="810.5" y="278.5" width="4" height="7" fill="#fff" stroke="#000"/>
<line x1="820.5" y1="282" x2="820.5" y2="313" stroke="#000"/>
<rect x="818.5" y="285.5" width="4" height="4" fill="#fff" stroke="#000"/>
<line x1="828.5" y1="211" x2="828.5" y2="332" stroke="#000"/>
<rect x="826.5" y="212.5" width="4" height="71" fill="#fff" stroke="#000"/>
<line x1="836.5" y1="197" x2="836.5" y2="249" stroke="#000"/>
<rect x="834" y="211" width="5" height="26" fill="#000"/>
<line x1="844.5" y1="211" x2="844.5" y2="298" stroke="#000"/>
<rect x="842" y="236" width="5" height="13" fill="#000"/>
<line x1="852.5" y1="223" x2="852.5" y2="279" stroke="#000"/>
<rect x="850" y="246" width="5" height="15" fill="#000"/>
<line x1="860.5" y1="239" x2="860.5" y2="285" stroke="#000"/>
<rect x="858" y="256" width="5" height="6" fill="#000"/>
<line x1="868.5" y1="282" x2="868.5" y2="304" stroke="#000"/>
<rect x="866" y="292" width="5" height="6" fill="#000"/>
<line x1="876.5" y1="287" x2="876.5" y2="380" stroke="#000"/>
<rect x="874" y="297" width="5" height="61" fill="#000"/>
<line x1="884.5" y1="337" x2="884.5" y2="411" stroke="#000"/>
<rect x="882" y="358" width="5" height="47" fill="#000"/>
<line x1="892.5" y1="376" x2="892.5" y2="433" stroke="#000"/>
<rect x="890" y="404" width="5" height="25" fill="#000"/>
<line x1="900.5" y1="399" x2="900.5" y2="457" stroke="#000"/>
<rect x="898" y="427" width="5" height="14" fill="#000"/>
<line x1="908.5" y1="419" x2="908.5" y2="472" stroke="#000"/>
<rect x="906" y="438" width="5" height="19" fill="#000"/>
<line x1="916.5" y1="422" x2="916.5" y2="445" stroke="#000"/>
<rect x="914.5" y="426.5" width="4" height="18" fill="#fff" stroke="#000"/>
<line x1="924.5" y1="418" x2="924.5" y2="509" stroke="#000"/>
<rect x="922" y="429" width="5" height="11" fill="#000"/>
<line x1="932.5" y1="379" x2="932.5" y2="441" stroke="#000"/>
<rect x="930.5" y="416.5" width="4" height="24" fill="#fff" stroke="#000"/>
<line x1="940.5" y1="378" x2="940.5" y2="442" stroke="#000"/>
<rect x="938" y="415" width="5" height="14" fill="#000"/>
<line x1="948.5" y1="401" x2="948.5" y2="477" stroke="#000"/>
<rect x="946.5" y="414.5" width="4" height="15" fill="#fff" stroke="#000"/>
<line x1="956.5" y1="402" x2="956.5" y2="445" stroke="#000"/>
<rect x="954" y="413" width="5" height="24" fill="#000"/>
<line x1="964.5" y1="436" x2="964.5" y2="457" stroke="#000"/>
<rect x="962" y="436" width="5" height="7" fill="#000"/>
<line x1="972.5" y1="387" x2="972.5" y2="460" stroke="#000"/>
<rect x="970.5" y="399.5" width="4" height="45" fill="#fff" stroke="#000"/>
<line x1="980.5" y1="379" x2="980.5" y2="432" stroke="#000"/>
<rect x="978.5" y="383.5" width="4" height="15" fill="#fff" stroke="#000"/>
<line x1="988.5" y1="365" x2="988.5" y2="464" stroke="#000"/>
<rect x="986" y="383" width="5" height="6" fill="#000"/>
<line x1="996.5" y1="367" x2="996.5" y2="487" stroke="#000"/>
<rect x="994" y="389" width="5" height="70" fill="#000"/>
<line x1="1004.5" y1="454" x2="1004.5" y2="500" stroke="#000"/>
<rect x="1002" y="456" width="5" height="23" fill="#000"/>
<line x1="1012.5" y1="470" x2="1012.5" y2="495" stroke="#000"/>
<rect x="1010.5" y="478.5" width="4" height="15" fill="#fff" stroke="#000"/>
<line x1="1020.5" y1="448" x2="1020.5" y2="529" stroke="#000"/>
<rect x="1018.5" y="474.5" width="4" height="7" fill="#fff" stroke="#000"/>
<line x1="1028.5" y1="469" x2="1028.5" y2="558" stroke="#000"/>
<rect x="1026" y="473" width="5" height="56" fill="#000"/>
<line x1="1036.5" y1="499" x2="1036.5" y2="564" stroke="#000"/>
<rect x="1034.5" y="503.5" width="4" height="25" fill="#fff" stroke="#000"/>
<line x1="1044.5" y1="476" x2="1044.5" y2="559" stroke="#000"/>
<rect x="1042" y="504" width="5" height="50" fill="#000"/>
<line x1="1052.5" y1="494" x2="1052.5" y2="559" stroke="#000"/>
<rect x="1050.5" y="511.5" width="4" height="42" fill="#fff" stroke="#000"/>
<line x1="1060.5" y1="456" x2="1060.5" y2="501" stroke="#000"/>
<rect x="1058.5" y="468.5" width="4" height="32" fill="#fff" stroke="#000"/>
<line x1="1068.5" y1="346" x2="1068.5" y2="473" stroke="#000"/>
<rect x="1066.5" y="365.5" width="4" height="100" fill="#fff" stroke="#000"/>
<line x1="1076.5" y1="348" x2="1076.5" y2="395" stroke="#000"/>
<rect x="1074.5" y="356.5" width="4" height="10" fill="#fff" stroke="#000"/>
<line x1="1084.5" y1="309" x2="1084.5" y2="363" stroke="#000"/>
<rect x="1082.5" y="319.5" width="4" height="37" fill="#fff" stroke="#000"/>
<line x1="1092.5" y1="297" x2="1092.5" y2="350" stroke="#000"/>
<rect x="1090" y="318" width="5" height="1" fill="#000"/>
<line x1="1100.5" y1="298" x2="1100.5" y2="325" stroke="#000"/>
<rect x="1098.5" y="306.5" width="4" height="10" fill="#fff" stroke="#000"/>
<line x1="1108.5" y1="254" x2="1108.5" y2="281" stroke="#000"/>
<rect x="1106.5" y="261.5" width="4" height="17" fill="#fff" stroke="#000"/>
<line x1="1116.5" y1="262" x2="1116.5" y2="357" stroke="#000"/>
<rect x="1114" y="263" width="5" height="68" fill="#000"/>
<line x1="1124.5" y1="305" x2="1124.5" y2="355" stroke="#000"/>
<rect x="1122" y="327" width="5" height="4" fill="#000"/>
<line x1="1132.5" y1="310" x2="1132.5" y2="358" stroke="#000"/>
<rect x="1130" y="329" width="5" height="23" fill="#000"/>
<line x1="1140.5" y1="301" x2="1140.5" y2="357" stroke="#000"/>
<rect x="1138.5" y="314.5" width="4" height="36" fill="#fff" stroke="#000"/>
<line x1="1148.5" y1="309" x2="1148.5" y2="348" stroke="#000"/>
<rect x="1146" y="315" width="5" height="31" fill="#000"/>
<line x1="1156.5" y1="319" x2="1156.5" y2="348" stroke="#000"/>
<rect x="1154.5" y="328.5" width="4" height="13" fill="#fff" stroke="#000"/>
<line x1="1164.5" y1="292" x2="1164.5" y2="356" stroke="#000"/>
<rect x="1162.5" y="312.5" width="4" height="21" fill="#fff" stroke="#000"/>
<line x1="1172.5" y1="259" x2="1172.5" y2="315" stroke="#000"/>
<rect x="1170.5" y="266.5" width="4" height="46" fill="#fff" stroke="#000"/>
<line x1="1180.5" y1="256" x2="1180.5" y2="309" stroke="#000"/>
<rect x="1178" y="266" width="5" height="30" fill="#000"/>
<line x1="1188.5" y1="259" x2="1188.5" y2="299" stroke="#000"/>
<rect x="1186.5" y="266.5" width="4" height="31" fill="#fff" stroke="#000"/>
<line x1="1196.5" y1="254" x2="1196.5" y2="272" stroke="#000"/>
<rect x="1194.5" y="261.5" width="4" height="5" fill="#fff" stroke="#000"/>
<line x1="1204.5" y1="249" x2="1204.5" y2="269" stroke="#000"/>
<rect x="1202" y="260" width="5" height="8" fill="#000"/>
<line x1="1212.5" y1="211" x2="1212.5" y2="286" stroke="#000"/>
<rect x="1210" y="261" width="5" height="2" fill="#000"/>
<line x1="1220.5" y1="240" x2="1220.5" y2="272" stroke="#000"/>
<rect x="1218.5" y="259.5" width="4" height="3" fill="#fff" stroke="#000"/>
<line x1="1228.5" y1="253" x2="1228.5" y2="310" stroke="#000"/>
<rect x="1226" y="258" width="5" height="40" fill="#000"/>
<line x1="1236.5" y1="293" x2="1236.5" y2="376" stroke="#000"/>
<rect x="1234" y="296" width="5" height="78" fill="#000"/>
<line x1="1244.5" y1="364" x2="1244.5" y2="402" stroke="#000"/>
<rect x="1242" y="372" width="5" height="25" fill="#000"/>
<line x1="1252.5" y1="402" x2="1252.5" y2="423" stroke="#000"/>
<rect x="1250" y="409" width="5" height="13" fill="#000"/>
<line x1="1260.5" y1="359" x2="1260.5" y2="428" stroke="#000"/>
<rect x="1258.5" y="362.5" width="4" height="65" fill="#fff" stroke="#000"/>
<line x1="1268.5" y1="350" x2="1268.5" y2="438" stroke="#000"/>
<rect x="1266" y="363" width="5" height="47" fill="#000"/>
<line x1="1276.5" y1="364" x2="1276.5" y2="430" stroke="#000"/>
<rect x="1274.5" y="372.5" width="4" height="37" fill="#fff" stroke="#000"/>
<line x1="1284.5" y1="329" x2="1284.5" y2="385" stroke="#000"/>
<rect x="1282.5" y="335.5" width="4" height="39" fill="#fff" stroke="#000"/>
<line x1="1292.5" y1="327" x2="1292.5" y2="377" stroke="#000"/>
<rect x="1290" y="335" width="5" height="37" fill="#000"/>
<line x1="1300.5" y1="338" x2="1300.5" y2="369" stroke="#000"/>
<rect x="1298.5" y="349.5" width="4" height="19" fill="#fff" stroke="#000"/>
<line x1="1308.5" y1="283" x2="1308.5" y2="358" stroke="#000"/>
<rect x="1306.5" y="299.5" width="4" height="58" fill="#fff" stroke="#000"/>
<line x1="1316.5" y1="240" x2="1316.5" y2="302" stroke="#000"/>
<rect x="1314.5" y="251.5" width="4" height="50" fill="#fff" stroke="#000"/>
<line x1="1324.5" y1="240" x2="1324.5" y2="296" stroke="#000"/>
<rect x="1322" y="251" width="5" height="44" fill="#000"/>
<line x1="1332.5" y1="290" x2="1332.5" y2="372" stroke="#000"/>
<rect x="1330" y="292" width="5" height="41" fill="#000"/>
<line x1="1340.5" y1="290" x2="1340.5" y2="351" stroke="#000"/>
<rect x="1338.5" y="292.5" width="4" height="40" fill="#fff" stroke="#000"/>
<line x1="1348.5" y1="221" x2="1348.5" y2="247" stroke="#000"/>
<rect x="1346.5" y="223.5" width="4" height="19" fill="#fff" stroke="#000"/>
<line x1="1356.5" y1="215" x2="1356.5" y2="266" stroke="#000"/>
<rect x="1354" y="227" width="5" height="22" fill="#000"/>
<line x1="1364.5" y1="205" x2="1364.5" y2="260" stroke="#000"/>
<rect x="1362.5" y="228.5" width="4" height="18" fill="#fff" stroke="#000"/>
<line x1="1372.5" y1="219" x2="1372.5" y2="257" stroke="#000"/>
<rect x="1370" y="227" width="5" height="7" fill="#000"/>
<line x1="1380.5" y1="190" x2="1380.5" y2="235" stroke="#000"/>
<rect x="1378.5" y="208.5" width="4" height="26" fill="#fff" stroke="#000"/>
<line x1="1388.5" y1="197" x2="1388.5" y2="225" stroke="#000"/>
<rect x="1386.5" y="201.5" width="4" height="5" fill="#fff" stroke="#000"/>
</g>
<g clip-path="url(#cd)" shape-rendering="crispEdges">
<line x1="4.5" y1="645" x2="4.5" y2="739" stroke="#c0c0c0"/>
<line x1="12.5" y1="645" x2="12.5" y2="725" stroke="#c0c0c0"/>
<line x1="20.5" y1="645" x2="20.5" y2="715" stroke="#c0c0c0"/>
<line x1="28.5" y1="645" x2="28.5" y2="704" stroke="#c0c0c0"/>
<line x1="36.5" y1="645" x2="36.5" y2="692" stroke="#c0c0c0"/>
<line x1="44.5" y1="645" x2="44.5" y2="681" stroke="#c0c0c0"/>
<line x1="52.5" y1="645" x2="52.5" y2="673" stroke="#c0c0c0"/>
<line x1="60.5" y1="645" x2="60.5" y2="660" stroke="#c0c0c0"/>
<line x1="68.5" y1="645" x2="68.5" y2="649" stroke="#c0c0c0"/>
<line x1="76.5" y1="641" x2="76.5" y2="646" stroke="#c0c0c0"/>
<line x1="84.5" y1="640" x2="84.5" y2="646" stroke="#c0c0c0"/>
<line x1="92.5" y1="640" x2="92.5" y2="646" stroke="#c0c0c0"/>
<line x1="100.5" y1="642" x2="100.5" y2="646" stroke="#c0c0c0"/>
<line x1="108.5" y1="636" x2="108.5" y2="646" stroke="#c0c0c0"/>
<line x1="116.5" y1="632" x2="116.5" y2="646" stroke="#c0c0c0"/>
<line x1="124.5" y1="628" x2="124.5" y2="646" stroke="#c0c0c0"/>
<line x1="132.5" y1="628" x2="132.5" y2="646" stroke="#c0c0c0"/>
<line x1="140.5" y1="628" x2="140.5" y2="646" stroke="#c0c0c0"/>
<line x1="148.5" y1="636" x2="148.5" y2="646" stroke="#c0c0c0"/>
<line x1="164.5" y1="645" x2="164.5" y2="651" stroke="#c0c0c0"/>
<line x1="172.5" y1="645" x2="172.5" y2="651" stroke="#c0c0c0"/>
<line x1="180.5" y1="645" x2="180.5" y2="648" stroke="#c0c0c0"/>
<line x1="188.5" y1="645" x2="188.5" y2="647" stroke="#c0c0c0"/>
<line x1="196.5" y1="640" x2="196.5" y2="646" stroke="#c0c0c0"/>
<line x1="204.5" y1="640" x2="204.5" y2="646" stroke="#c0c0c0"/>
<line x1="212.5" y1="641" x2="212.5" y2="646" stroke="#c0c0c0"/>
<line x1="220.5" y1="636" x2="220.5" y2="646" stroke="#c0c0c0"/>
<line x1="228.5" y1="631" x2="228.5" y2="646" stroke="#c0c0c0"/>
<line x1="236.5" y1="626" x2="236.5" y2="646" stroke="#c0c0c0"/>
<line x1="244.5" y1="621" x2="244.5" y2="646" stroke="#c0c0c0"/>
<line x1="252.5" y1="620" x2="252.5" y2="646" stroke="#c0c0c0"/>
<line x1="260.5" y1="616" x2="260.5" y2="646" stroke="#c0c0c0"/>
<line x1="268.5" y1="613" x2="268.5" y2="646" stroke="#c0c0c0"/>
<line x1="276.5" y1="616" x2="276.5" y2="646" stroke="#c0c0c0"/>
<line x1="284.5" y1="615" x2="284.5" y2="646" stroke="#c0c0c0"/>
<line x1="292.5" y1="614" x2="292.5" y2="646" stroke="#c0c0c0"/>
<line x1="300.5" y1="606" x2="300.5" y2="646" stroke="#c0c0c0"/>
<line x1="308.5" y1="594" x2="308.5" y2="646" stroke="#c0c0c0"/>
<line x1="316.5" y1="588" x2="316.5" y2="646" stroke="#c0c0c0"/>
<line x1="324.5" y1="596" x2="324.5" y2="646" stroke="#c0c0c0"/>
<line x1="332.5" y1="604" x2="332.5" y2="646" stroke="#c0c0c0"/>
<line x1="340.5" y1="613" x2="340.5" y2="646" stroke="#c0c0c0"/>
<line x1="348.5" y1="622" x2="348.5" y2="646" stroke="#c0c0c0"/>
<line x1="356.5" y1="628" x2="356.5" y2="646" stroke="#c0c0c0"/>
<line x1="364.5" y1="637" x2="364.5" y2="646" stroke="#c0c0c0"/>
<line x1="372.5" y1="645" x2="372.5" y2="651" stroke="#c0c0c0"/>
<line x1="380.5" y1="645" x2="380.5" y2="662" stroke="#c0c0c0"/>
<line x1="388.5" y1="645" x2="388.5" y2="675" stroke="#c0c0c0"/>
<line x1="396.5" y1="645" x2="396.5" y2="683" stroke="#c0c0c0"/>
<line x1="404.5" y1="645" x2="404.5" y2="695" stroke="#c0c0c0"/>
<line x1="412.5" y1="645" x2="412.5" y2="701" stroke="#c0c0c0"/>
<line x1="420.5" y1="645" x2="420.5" y2="698" stroke="#c0c0c0"/>
<line x1="428.5" y1="645" x2="428.5" y2="693" stroke="#c0c0c0"/>
<line x1="436.5" y1="645" x2="436.5" y2="690" stroke="#c0c0c0"/>
<line x1="444.5" y1="645" x2="444.5" y2="688" stroke="#c0c0c0"/>
<line x1="452.5" y1="645" x2="452.5" y2="692" stroke="#c0c0c0"/>
<line x1="460.5" y1="645" x2="460.5" y2="704" stroke="#c0c0c0"/>
<line x1="468.5" y1="645" x2="468.5" y2="714" stroke="#c0c0c0"/>
<line x1="476.5" y1="645" x2="476.5" y2="728" stroke="#c0c0c0"/>
<line x1="484.5" y1="645" x2="484.5" y2="734" stroke="#c0c0c0"/>
<line x1="492.5" y1="645" x2="492.5" y2="732" stroke="#c0c0c0"/>
<line x1="500.5" y1="645" x2="500.5" y2="722" stroke="#c0c0c0"/>
<line x1="508.5" y1="645" x2="508.5" y2="719" stroke="#c0c0c0"/>
<line x1="516.5" y1="645" x2="516.5" y2="714" stroke="#c0c0c0"/>
<line x1="524.5" y1="645" x2="524.5" y2="708" stroke="#c0c0c0"/>
<line x1="532.5" y1="645" x2="532.5" y2="705" stroke="#c0c0c0"/>
<line x1="540.5" y1="645" x2="540.5" y2="693" stroke="#c0c0c0"/>
<line x1="548.5" y1="645" x2="548.5" y2="673" stroke="#c0c0c0"/>
<line x1="556.5" y1="645" x2="556.5" y2="659" stroke="#c0c0c0"/>
<line x1="564.5" y1="635" x2="564.5" y2="646" stroke="#c0c0c0"/>
<line x1="572.5" y1="619" x2="572.5" y2="646" stroke="#c0c0c0"/>
<line x1="580.5" y1="610" x2="580.5" y2="646" stroke="#c0c0c0"/>
<line x1="588.5" y1="598" x2="588.5" y2="646" stroke="#c0c0c0"/>
<line x1="596.5" y1="591" x2="596.5" y2="646" stroke="#c0c0c0"/>
<line x1="604.5" y1="590" x2="604.5" y2="646" stroke="#c0c0c0"/>
<line x1="612.5" y1="598" x2="612.5" y2="646" stroke="#c0c0c0"/>
<line x1="620.5" y1="608" x2="620.5" y2="646" stroke="#c0c0c0"/>
<line x1="628.5" y1="619" x2="628.5" y2="646" stroke="#c0c0c0"/>
<line x1="636.5" y1="624" x2="636.5" y2="646" stroke="#c0c0c0"/>
<line x1="644.5" y1="629" x2="644.5" y2="646" stroke="#c0c0c0"/>
<line x1="652.5" y1="634" x2="652.5" y2="646" stroke="#c0c0c0"/>
<line x1="660.5" y1="641" x2="660.5" y2="646" stroke="#c0c0c0"/>
<line x1="668.5" y1="641" x2="668.5" y2="646" stroke="#c0c0c0"/>
<line x1="676.5" y1="642" x2="676.5" y2="646" stroke="#c0c0c0"/>
<line x1="684.5" y1="638" x2="684.5" y2="646" stroke="#c0c0c0"/>
<line x1="692.5" y1="640" x2="692.5" y2="646" stroke="#c0c0c0"/>
<line x1="700.5" y1="638" x2="700.5" y2="646" stroke="#c0c0c0"/>
<line x1="708.5" y1="633" x2="708.5" y2="646" stroke="#c0c0c0"/>
<line x1="716.5" y1="629" x2="716.5" y2="646" stroke="#c0c0c0"/>
<line x1="724.5" y1="625" x2="724.5" y2="646" stroke="#c0c0c0"/>
<line x1="732.5" y1="622" x2="732.5" y2="646" stroke="#c0c0c0"/>
<line x1="740.5" y1="621" x2="740.5" y2="646" stroke="#c0c0c0"/>
<line x1="748.5" y1="626" x2="748.5" y2="646" stroke="#c0c0c0"/>
<line x1="756.5" y1="622" x2="756.5" y2="646" stroke="#c0c0c0"/>
<line x1="764.5" y1="611" x2="764.5" y2="646" stroke="#c0c0c0"/>
<line x1="772.5" y1="602" x2="772.5" y2="646" stroke="#c0c0c0"/>
<line x1="780.5" y1="596" x2="780.5" y2="646" stroke="#c0c0c0"/>
<line x1="788.5" y1="593" x2="788.5" y2="646" stroke="#c0c0c0"/>
<line x1="796.5" y1="607" x2="796.5" y2="646" stroke="#c0c0c0"/>
<line x1="804.5" y1="622" x2="804.5" y2="646" stroke="#c0c0c0"/>
<line x1="812.5" y1="633" x2="812.5" y2="646" stroke="#c0c0c0"/>
<line x1="820.5" y1="643" x2="820.5" y2="646" stroke="#c0c0c0"/>
<line x1="828.5" y1="641" x2="828.5" y2="646" stroke="#c0c0c0"/>
<line x1="836.5" y1="643" x2="836.5" y2="646" stroke="#c0c0c0"/>
<line x1="852.5" y1="645" x2="852.5" y2="650" stroke="#c0c0c0"/>
<line x1="860.5" y1="645" x2="860.5" y2="653" stroke="#c0c0c0"/>
<line x1="868.5" y1="645" x2="868.5" y2="661" stroke="#c0c0c0"/>
<line x1="876.5" y1="645" x2="876.5" y2="674" stroke="#c0c0c0"/>
<line x1="884.5" y1="645" x2="884.5" y2="691" stroke="#c0c0c0"/>
<line x1="892.5" y1="645" x2="892.5" y2="706" stroke="#c0c0c0"/>
<line x1="900.5" y1="645" x2="900.5" y2="719" stroke="#c0c0c0"/>
<line x1="908.5" y1="645" x2="908.5" y2="731" stroke="#c0c0c0"/>
<line x1="916.5" y1="645" x2="916.5" y2="735" stroke="#c0c0c0"/>
<line x1="924.5" y1="645" x2="924.5" y2="739" stroke="#c0c0c0"/>
<line x1="932.5" y1="645" x2="932.5" y2="738" stroke="#c0c0c0"/>
<line x1="940.5" y1="645" x2="940.5" y2="738" stroke="#c0c0c0"/>
<line x1="948.5" y1="645" x2="948.5" y2="735" stroke="#c0c0c0"/>
<line x1="956.5" y1="645" x2="956.5" y2="734" stroke="#c0c0c0"/>
<line x1="964.5" y1="645" x2="964.5" y2="734" stroke="#c0c0c0"/>
<line x1="972.5" y1="645" x2="972.5" y2="727" stroke="#c0c0c0"/>
<line x1="980.5" y1="645" x2="980.5" y2="718" stroke="#c0c0c0"/>
<line x1="988.5" y1="645" x2="988.5" y2="711" stroke="#c0c0c0"/>
<line x1="996.5" y1="645" x2="996.5" y2="714" stroke="#c0c0c0"/>
<line x1="1004.5" y1="645" x2="1004.5" y2="718" stroke="#c0c0c0"/>
<line x1="1012.5" y1="645" x2="1012.5" y2="721" stroke="#c0c0c0"/>
<line x1="1020.5" y1="645" x2="1020.5" y2="722" stroke="#c0c0c0"/>
<line x1="1028.5" y1="645" x2="1028.5" y2="729" stroke="#c0c0c0"/>
<line x1="1036.5" y1="645" x2="1036.5" y2="730" stroke="#c0c0c0"/>
<line x1="1044.5" y1="645" x2="1044.5" y2="736" stroke="#c0c0c0"/>
<line x1="1052.5" y1="645" x2="1052.5" y2="735" stroke="#c0c0c0"/>
<line x1="1060.5" y1="645" x2="1060.5" y2="727" stroke="#c0c0c0"/>
<line x1="1068.5" y1="645" x2="1068.5" y2="706" stroke="#c0c0c0"/>
<line x1="1076.5" y1="645" x2="1076.5" y2="688" stroke="#c0c0c0"/>
<line x1="1084.5" y1="645" x2="1084.5" y2="668" stroke="#c0c0c0"/>
<line x1="1092.5" y1="645" x2="1092.5" y2="652" stroke="#c0c0c0"/>
<line x1="1100.5" y1="637" x2="1100.5" y2="646" stroke="#c0c0c0"/>
<line x1="1108.5" y1="620" x2="1108.5" y2="646" stroke="#c0c0c0"/>
<line x1="1116.5" y1="616" x2="1116.5" y2="646" stroke="#c0c0c0"/>
<line x1="1124.5" y1="614" x2="1124.5" y2="646" stroke="#c0c0c0"/>
<line x1="1132.5" y1="615" x2="1132.5" y2="646" stroke="#c0c0c0"/>
<line x1="1140.5" y1="611" x2="1140.5" y2="646" stroke="#c0c0c0"/>
<line x1="1148.5" y1="612" x2="1148.5" y2="646" stroke="#c0c0c0"/>
<line x1="1156.5" y1="612" x2="1156.5" y2="646" stroke="#c0c0c0"/>
<line x1="1164.5" y1="609" x2="1164.5" y2="646" stroke="#c0c0c0"/>
<line x1="1172.5" y1="602" x2="1172.5" y2="646" stroke="#c0c0c0"/>
<line x1="1180.5" y1="600" x2="1180.5" y2="646" stroke="#c0c0c0"/>
<line x1="1188.5" y1="596" x2="1188.5" y2="646" stroke="#c0c0c0"/>
<line x1="1196.5" y1="592" x2="1196.5" y2="646" stroke="#c0c0c0"/>
<line x1="1204.5" y1="591" x2="1204.5" y2="646" stroke="#c0c0c0"/>
<line x1="1212.5" y1="590" x2="1212.5" y2="646" stroke="#c0c0c0"/>
<line x1="1220.5" y1="589" x2="1220.5" y2="646" stroke="#c0c0c0"/>
<line x1="1228.5" y1="594" x2="1228.5" y2="646" stroke="#c0c0c0"/>
<line x1="1236.5" y1="609" x2="1236.5" y2="646" stroke="#c0c0c0"/>
<line x1="1244.5" y1="624" x2="1244.5" y2="646" stroke="#c0c0c0"/>
<line x1="1252.5" y1="639" x2="1252.5" y2="646" stroke="#c0c0c0"/>
<line x1="1260.5" y1="644" x2="1260.5" y2="646" stroke="#c0c0c0"/>
<line x1="1268.5" y1="645" x2="1268.5" y2="654" stroke="#c0c0c0"/>
<line x1="1276.5" y1="645" x2="1276.5" y2="657" stroke="#c0c0c0"/>
<line x1="1284.5" y1="645" x2="1284.5" y2="654" stroke="#c0c0c0"/>
<line x1="1292.5" y1="645" x2="1292.5" y2="656" stroke="#c0c0c0"/>
<line x1="1300.5" y1="645" x2="1300.5" y2="655" stroke="#c0c0c0"/>
<line x1="1308.5" y1="645" x2="1308.5" y2="647" stroke="#c0c0c0"/>
<line x1="1316.5" y1="633" x2="1316.5" y2="646" stroke="#c0c0c0"/>
<line x1="1324.5" y1="629" x2="1324.5" y2="646" stroke="#c0c0c0"/>
<line x1="1332.5" y1="631" x2="1332.5" y2="646" stroke="#c0c0c0"/>
<line x1="1340.5" y1="628" x2="1340.5" y2="646" stroke="#c0c0c0"/>
<line x1="1348.5" y1="616" x2="1348.5" y2="646" stroke="#c0c0c0"/>
<line x1="1356.5" y1="611" x2="1356.5" y2="646" stroke="#c0c0c0"/>
<line x1="1364.5" y1="604" x2="1364.5" y2="646" stroke="#c0c0c0"/>
<line x1="1372.5" y1="600" x2="1372.5" y2="646" stroke="#c0c0c0"/>
<line x1="1380.5" y1="594" x2="1380.5" y2="646" stroke="#c0c0c0"/>
<line x1="1388.5" y1="589" x2="1388.5" y2="646" stroke="#c0c0c0"/>
</g>
<g clip-path="url(#cd)" fill="none" stroke="#ff0000" stroke-dasharray="3,3" shape-rendering="crispEdges">
<polyline points="0,726.4 4.5,725.9 12.5,727.2 20.5,726.9 28.5,725.1 36.5,721.6 44.5,716.6 52.5,710.3 60.5,702.3 68.5,692.6 76.5,681.8 84.5,672.4 92.5,664.2 100.5,657.4 108.5,651.4 116.5,646.0 124.5,641.2 132.5,637.8 140.5,635.6 148.5,635.0 156.5,635.6 164.5,636.7 172.5,637.5 180.5,638.7 188.5,640.2 196.5,641.6 204.5,642.9 212.5,644.3 220.5,644.3 228.5,642.8 236.5,640.1 244.5,636.9 252.5,633.8 260.5,630.5 268.5,627.4 276.5,624.7 284.5,621.8 292.5,619.4 300.5,616.7 308.5,613.2 316.5,609.5 324.5,606.9 332.5,605.6 340.5,605.7 348.5,606.3 356.5,607.7 364.5,610.2 372.5,615.0 380.5,622.5 388.5,632.2 396.5,641.7 404.5,651.6 412.5,661.3 420.5,669.7 428.5,676.9 436.5,682.7 444.5,686.9 452.5,690.2 460.5,693.4 468.5,696.8 476.5,700.6 484.5,704.3 492.5,708.1 500.5,711.2 508.5,714.5 516.5,717.3 524.5,719.1 532.5,719.1 540.5,716.8 548.5,710.6 556.5,702.3 564.5,691.6 572.5,680.3 580.5,668.3 588.5,655.5 596.5,642.7 604.5,630.0 612.5,619.6 620.5,612.5 628.5,608.1 636.5,606.9 644.5,608.0 652.5,610.6 660.5,615.4 668.5,620.9 676.5,626.7 684.5,631.1 692.5,634.6 700.5,636.8 708.5,637.8 716.5,637.9 724.5,636.9 732.5,634.8 740.5,632.7 748.5,631.0 756.5,629.2 764.5,625.9 772.5,621.9 780.5,617.8 788.5,613.8 796.5,611.8 804.5,611.8 812.5,613.1 820.5,615.0 828.5,617.1 836.5,620.7 844.5,625.5 852.5,631.4 860.5,637.9 868.5,643.7 876.5,649.4 884.5,655.7 892.5,662.6 900.5,671.2 908.5,680.9 916.5,690.7 924.5,700.6 932.5,710.1 940.5,718.7 948.5,725.4 956.5,730.3 964.5,733.3 972.5,734.1 980.5,732.7 988.5,729.9 996.5,727.1 1004.5,724.9 1012.5,723.0 1020.5,721.6 1028.5,720.9 1036.5,720.5 1044.5,721.6 1052.5,723.4 1060.5,725.2 1068.5,724.3 1076.5,720.9 1084.5,715.0 1092.5,707.3 1100.5,697.3 1108.5,685.2 1116.5,671.9 1124.5,658.6 1132.5,646.2 1140.5,635.7 1148.5,627.5 1156.5,621.4 1164.5,616.7 1172.5,612.8 1180.5,610.7 1188.5,608.4 1196.5,606.0 1204.5,603.4 1212.5,601.0 1220.5,598.3 1228.5,596.3 1236.5,596.2 1244.5,598.7 1252.5,603.0 1260.5,608.3 1268.5,615.1 1276.5,622.3 1284.5,629.3 1292.5,636.7 1300.5,643.3 1308.5,647.5 1316.5,648.5 1324.5,647.4 1332.5,646.1 1340.5,643.3 1348.5,638.9 1356.5,634.2 1364.5,628.5 1372.5,622.5 1380.5,616.8 1388.5,611.8"/>
</g>
<g shape-rendering="crispEdges">
<line x1="0" y1="786.5" x2="1647" y2="786.5" stroke="#c0c0c0" stroke-dasharray="3,3"/>
<line x1="0" y1="837.5" x2="1647" y2="837.5" stroke="#c0c0c0" stroke-dasharray="3,3"/>
<line x1="0" y1="898.5" x2="1647" y2="898.5" stroke="#c0c0c0" stroke-dasharray="3,3"/>
</g>
<g clip-path="url(#cr)" fill="none" stroke="#1e90ff" stroke-width="1" shape-rendering="crispEdges">
<polyline points="0,868.5 4.5,864.9 12.5,840.2 20.5,842.0 28.5,837.8 36.5,833.1 44.5,831.7 52.5,833.8 60.5,822.1 68.5,821.7 76.5,825.2 84.5,834.5 92.5,837.4 100.5,841.8 108.5,826.0 116.5,826.6 124.5,826.9 132.5,832.1 140.5,831.8 148.5,848.2 156.5,853.6 164.5,849.0 172.5,838.7 180.5,833.6 188.5,835.7 196.5,827.0 204.5,836.5 212.5,838.3 220.5,825.5 228.5,825.6 236.5,821.4 244.5,819.9 252.5,826.3 260.5,820.1 268.5,819.4 276.5,834.2 284.5,825.8 292.5,824.5 300.5,812.5 308.5,803.1 316.5,811.0 324.5,836.7 332.5,838.9 340.5,841.7 348.5,844.2 356.5,841.7 364.5,849.2 372.5,857.8 380.5,860.4 388.5,865.5 396.5,860.2 404.5,868.0 412.5,862.5 420.5,847.5 428.5,843.5 436.5,845.2 444.5,847.0 452.5,857.2 460.5,868.0 468.5,869.7 476.5,877.0 484.5,866.6 492.5,855.6 500.5,842.5 508.5,850.4 516.5,846.3 524.5,845.6 532.5,847.8 540.5,834.4 548.5,820.8 556.5,825.1 564.5,812.3 572.5,816.0 580.5,820.8 588.5,814.7 596.5,819.9 604.5,824.4 612.5,837.6 620.5,841.4 628.5,843.8 636.5,840.0 644.5,840.2 652.5,840.9 660.5,847.1 668.5,835.8 676.5,838.4 684.5,831.7 692.5,838.4 700.5,834.2 708.5,827.9 716.5,827.6 724.5,825.7 732.5,825.6 740.5,828.4 748.5,840.2 756.5,825.7 764.5,814.0 772.5,813.9 780.5,815.3 788.5,817.0 796.5,846.6 804.5,851.3 812.5,849.7 820.5,851.1 828.5,834.1 836.5,839.1 844.5,841.7 852.5,844.2 860.5,844.4 868.5,852.2 876.5,863.0 884.5,869.7 892.5,872.8 900.5,874.3 908.5,876.4 916.5,867.0 924.5,868.9 932.5,861.8 940.5,863.8 948.5,859.3 956.5,863.4 964.5,864.6 972.5,850.4 980.5,845.6 988.5,846.9 996.5,861.8 1004.5,865.4 1012.5,865.4 1020.5,864.0 1028.5,873.4 1036.5,864.7 1044.5,872.7 1052.5,859.5 1060.5,847.8 1068.5,826.8 1076.5,825.3 1084.5,819.2 1092.5,819.0 1100.5,817.0 1108.5,810.0 1116.5,827.0 1124.5,827.2 1132.5,831.9 1140.5,825.0 1148.5,832.1 1156.5,828.9 1164.5,825.6 1172.5,817.5 1180.5,824.8 1188.5,819.6 1196.5,818.9 1204.5,820.6 1212.5,819.6 1220.5,818.8 1228.5,830.7 1236.5,848.9 1244.5,853.5 1252.5,858.0 1260.5,843.0 1268.5,851.8 1276.5,843.3 1284.5,835.6 1292.5,842.7 1300.5,838.1 1308.5,828.7 1316.5,820.8 1324.5,830.0 1332.5,837.3 1340.5,830.3 1348.5,820.0 1356.5,824.9 1364.5,821.9 1372.5,823.1 1380.5,819.2 1388.5,818.0"/>
</g>
<g shape-rendering="crispEdges" stroke="#000">
<line x1="0" y1="23.5" x2="1648" y2="23.5"/>
<line x1="0" y1="576.5" x2="1648" y2="576.5"/>
<line x1="0" y1="578.5" x2="1648" y2="578.5"/>
<line x1="0" y1="748.5" x2="1648" y2="748.5"/>
<line x1="0" y1="750.5" x2="1648" y2="750.5"/>
<line x1="0" y1="924.5" x2="1648" y2="924.5"/>
<line x1="1647.5" y1="23" x2="1647.5" y2="925"/>
</g>
<g clip-path="url(#cm)"><rect x="1309.5" y="181.5" width="61" height="18" fill="#fff" stroke="#ff0000" shape-rendering="crispEdges"/>
<text x="1311" y="196.5" font-size="16" fill="#ff0000" textLength="57" lengthAdjust="spacingAndGlyphs">27138.0</text>
<rect x="1371.5" y="188.5" width="3" height="3" fill="#fff" stroke="#ff0000" shape-rendering="crispEdges"/>
<polyline points="1375,190.5 1380.5,190.5" fill="none" stroke="#ff0000" shape-rendering="crispEdges"/>
<rect x="1141.5" y="202.5" width="61" height="18" fill="#fff" stroke="#ff0000" shape-rendering="crispEdges"/>
<text x="1143" y="217.5" font-size="16" fill="#ff0000" textLength="57" lengthAdjust="spacingAndGlyphs">27047.0</text>
<polyline points="1203,211.5 1212.5,211.5" fill="none" stroke="#ff0000" shape-rendering="crispEdges"/>
<rect x="1037.5" y="244.5" width="61" height="18" fill="#fff" stroke="#ff0000" shape-rendering="crispEdges"/>
<text x="1039" y="259.5" font-size="16" fill="#ff0000" textLength="57" lengthAdjust="spacingAndGlyphs">26865.1</text>
<rect x="1099.5" y="251.5" width="3" height="3" fill="#fff" stroke="#ff0000" shape-rendering="crispEdges"/>
<polyline points="1103,253.5 1108.5,253.5" fill="none" stroke="#ff0000" shape-rendering="crispEdges"/>
<rect x="1197.5" y="427.5" width="61" height="18" fill="#fff" stroke="#ff0000" shape-rendering="crispEdges"/>
<text x="1199" y="442.5" font-size="16" fill="#ff0000" textLength="57" lengthAdjust="spacingAndGlyphs">26072.4</text>
<polyline points="1259,436.5 1268.5,436.5" fill="none" stroke="#ff0000" shape-rendering="crispEdges"/>
<line x1="1264" y1="438" x2="1388.5" y2="193.9" stroke="#ff0000" stroke-width="4" stroke-linecap="round"/><polygon points="1393,185 1392.9,198.4 1382.2,193.0" fill="#ff0000"/></g>
<g clip-path="url(#cd)"><line x1="1304" y1="645" x2="1381.7" y2="592.6" stroke="#ff0000" stroke-width="3.5" stroke-linecap="round"/><polygon points="1390,587 1383.4,598.7 1376.7,588.7" fill="#ff0000"/></g>
<g clip-path="url(#cr)"><line x1="1307" y1="835" x2="1382.2" y2="820.0" stroke="#ff0000" stroke-width="3" stroke-linecap="round"/><polygon points="1392,818 1381.2,825.3 1379.3,815.5" fill="#ff0000"/></g>
<polygon points="1392,24 1401,24 1396.5,29" fill="#c0c0c0"/>
<g font-size="9" fill="#000" shape-rendering="crispEdges"><line x1="1648" y1="45.5" x2="1651" y2="45.5" stroke="#000"/>
<text x="1653" y="49">27766.0</text>
<line x1="1648" y1="78.5" x2="1651" y2="78.5" stroke="#000"/>
<text x="1653" y="82">27626.0</text>
<line x1="1648" y1="111.5" x2="1651" y2="111.5" stroke="#000"/>
<text x="1653" y="115">27482.0</text>
<line x1="1648" y1="144.5" x2="1651" y2="144.5" stroke="#000"/>
<text x="1653" y="148">27338.0</text>
<line x1="1648" y1="177.5" x2="1651" y2="177.5" stroke="#000"/>
<text x="1653" y="181">27194.0</text>
<line x1="1648" y1="210.5" x2="1651" y2="210.5" stroke="#000"/>
<text x="1653" y="214">27050.0</text>
<line x1="1648" y1="243.5" x2="1651" y2="243.5" stroke="#000"/>
<text x="1653" y="247">26910.0</text>
<line x1="1648" y1="276.5" x2="1651" y2="276.5" stroke="#000"/>
<text x="1653" y="280">26766.0</text>
<line x1="1648" y1="309.5" x2="1651" y2="309.5" stroke="#000"/>
<text x="1653" y="313">26622.0</text>
<line x1="1648" y1="342.5" x2="1651" y2="342.5" stroke="#000"/>
<text x="1653" y="346">26478.0</text>
<line x1="1648" y1="375.5" x2="1651" y2="375.5" stroke="#000"/>
<text x="1653" y="379">26334.0</text>
<line x1="1648" y1="408.5" x2="1651" y2="408.5" stroke="#000"/>
<text x="1653" y="412">26194.0</text>
<line x1="1648" y1="441.5" x2="1651" y2="441.5" stroke="#000"/>
<text x="1653" y="445">26050.0</text>
<line x1="1648" y1="474.5" x2="1651" y2="474.5" stroke="#000"/>
<text x="1653" y="478">25906.0</text>
<line x1="1648" y1="507.5" x2="1651" y2="507.5" stroke="#000"/>
<text x="1653" y="511">25762.0</text>
<line x1="1648" y1="540.5" x2="1651" y2="540.5" stroke="#000"/>
<text x="1653" y="544">25618.0</text>
<line x1="1648" y1="573.5" x2="1651" y2="573.5" stroke="#000"/>
<text x="1653" y="577">25478.0</text>
<line x1="1648" y1="580.5" x2="1651" y2="580.5" stroke="#000"/>
<line x1="1648" y1="645.5" x2="1651" y2="645.5" stroke="#000"/>
<line x1="1648" y1="747.5" x2="1651" y2="747.5" stroke="#000"/>
<text x="1651" y="589">167.68</text>
<text x="1651" y="649">0.00</text>
<text x="1649" y="745">-262.94</text>
<line x1="1648" y1="752.5" x2="1650" y2="752.5" stroke="#000"/>
<text x="1651" y="761">100</text>
<text x="1651" y="790">80</text>
<text x="1651" y="841">50</text>
<text x="1651" y="902">15</text>
<line x1="1648" y1="924.5" x2="1650" y2="924.5" stroke="#000"/>
<text x="1651" y="921">0</text><rect x="1649" y="126" width="41" height="11" fill="#ff0000"/>
<text x="1652" y="135" fill="#fff">27389.2</text>
<rect x="1649" y="161" width="41" height="11" fill="#ff0000"/>
<text x="1652" y="170" fill="#fff">27237.6</text>
<rect x="1649" y="195" width="41" height="10" fill="#000000"/>
<text x="1652" y="203" fill="#fff">27097.5</text>
<rect x="1649" y="205" width="41" height="11" fill="#32cd32"/>
<text x="1652" y="214" fill="#fff">27047.0</text>
<rect x="1649" y="234" width="41" height="11" fill="#0000ff"/>
<text x="1652" y="243" fill="#fff">26921.4</text>
<rect x="1649" y="265" width="41" height="11" fill="#0000ff"/>
<text x="1652" y="274" fill="#fff">26787.1</text></g>
<g font-size="9.3" fill="#000" shape-rendering="crispEdges"><text x="-11" y="937">12 Apr 2022</text>
<line x1="52.5" y1="925" x2="52.5" y2="928" stroke="#000"/>
<text x="51" y="937">13 Apr 23:30</text>
<line x1="116.5" y1="925" x2="116.5" y2="928" stroke="#000"/>
<text x="115" y="937">15 Apr 04:00</text>
<line x1="180.5" y1="925" x2="180.5" y2="928" stroke="#000"/>
<text x="179" y="937">18 Apr 14:55</text>
<line x1="244.5" y1="925" x2="244.5" y2="928" stroke="#000"/>
<text x="243" y="937">19 Apr 23:30</text>
<line x1="308.5" y1="925" x2="308.5" y2="928" stroke="#000"/>
<text x="307" y="937">21 Apr 04:00</text>
<line x1="372.5" y1="925" x2="372.5" y2="928" stroke="#000"/>
<text x="371" y="937">22 Apr 14:55</text>
<line x1="436.5" y1="925" x2="436.5" y2="928" stroke="#000"/>
<text x="435" y="937">25 Apr 23:30</text>
<line x1="500.5" y1="925" x2="500.5" y2="928" stroke="#000"/>
<text x="499" y="937">27 Apr 04:00</text>
<line x1="564.5" y1="925" x2="564.5" y2="928" stroke="#000"/>
<text x="563" y="937">28 Apr 14:55</text>
<line x1="628.5" y1="925" x2="628.5" y2="928" stroke="#000"/>
<text x="627" y="937">1 May 23:30</text>
<line x1="692.5" y1="925" x2="692.5" y2="928" stroke="#000"/>
<text x="691" y="937">3 May 04:00</text>
<line x1="756.5" y1="925" x2="756.5" y2="928" stroke="#000"/>
<text x="755" y="937">4 May 14:55</text>
<line x1="820.5" y1="925" x2="820.5" y2="928" stroke="#000"/>
<text x="819" y="937">5 May 23:30</text>
<line x1="884.5" y1="925" x2="884.5" y2="928" stroke="#000"/>
<text x="883" y="937">9 May 04:00</text>
<line x1="948.5" y1="925" x2="948.5" y2="928" stroke="#000"/>
<text x="947" y="937">10 May 14:55</text>
<line x1="1012.5" y1="925" x2="1012.5" y2="928" stroke="#000"/>
<text x="1011" y="937">11 May 23:30</text>
<line x1="1076.5" y1="925" x2="1076.5" y2="928" stroke="#000"/>
<text x="1075" y="937">13 May 04:00</text>
<line x1="1140.5" y1="925" x2="1140.5" y2="928" stroke="#000"/>
<text x="1139" y="937">16 May 14:55</text>
<line x1="1204.5" y1="925" x2="1204.5" y2="928" stroke="#000"/>
<text x="1203" y="937">17 May 23:30</text>
<line x1="1268.5" y1="925" x2="1268.5" y2="928" stroke="#000"/>
<text x="1267" y="937">19 May 04:00</text>
<line x1="1332.5" y1="925" x2="1332.5" y2="928" stroke="#000"/>
<text x="1331" y="937">20 May 14:55</text></g>
<g font-size="9.8" fill="#000">
<text x="3" y="35" style="white-space:pre" textLength="197" lengthAdjust="spacingAndGlyphs">JPN225-,H4  27067.5 27107.5 26995.0 27097.5</text>
<text x="-6.7" y="590.6" textLength="121.5" lengthAdjust="spacingAndGlyphs">MACD(12,26,9) 145.65 87.03</text>
<text x="-8.3" y="762.7" textLength="68.5" lengthAdjust="spacingAndGlyphs">RSI(14) 61.5405</text>
</g>
</svg>

<div class="t" style="left:0;top:43px;width:43px;height:24px;background:linear-gradient(#f65a5a,#e02a2a);border-top:1px solid #b40000;border-right:1px solid #b40000;box-sizing:border-box;"></div>
<div class="t" style="left:0;top:66px;width:39px;height:1px;background:#a00000;"></div>
<div class="t" style="left:0;top:67px;width:39px;height:1px;background:#f07070;"></div>
<div class="t" style="left:3.5px;top:47px;font-size:11.5px;color:#fff;">SELL</div>
<div class="t" style="left:158px;top:43px;width:52px;height:24px;background:linear-gradient(#f65a5a,#e02a2a);border-top:1px solid #b40000;border-left:1px solid #b40000;border-right:1px solid #b40000;box-sizing:border-box;"></div>
<div class="t" style="left:162px;top:66px;width:44px;height:1px;background:#a00000;"></div>
<div class="t" style="left:162px;top:67px;width:44px;height:1px;background:#f07070;"></div>
<div class="t" style="left:171.5px;top:47px;font-size:11.5px;color:#fff;">BUY</div>
<div class="t" style="left:45px;top:43px;width:111px;height:22px;background:#fff;border:1px solid #a9aeb4;box-sizing:border-box;"></div>
<div class="t" style="left:46px;top:44px;width:20px;height:20px;background:linear-gradient(#f0f0f0,#e6e6e6 45%,#d2d2d2 55%,#cfcfcf);border-right:1px solid #a9aeb4;box-sizing:border-box;"></div>
<div class="t" style="left:135px;top:44px;width:20px;height:20px;background:linear-gradient(#f0f0f0,#e6e6e6 45%,#d2d2d2 55%,#cfcfcf);border-left:1px solid #a9aeb4;box-sizing:border-box;"></div>
<div class="t" style="left:53px;top:52px;width:0;height:0;border-left:3px solid transparent;border-right:3px solid transparent;border-top:3px solid #4a6cc8;"></div>
<div class="t" style="left:142px;top:52px;width:0;height:0;border-left:3px solid transparent;border-right:3px solid transparent;border-bottom:3px solid #4a6cc8;"></div>
<div class="t" style="left:108px;top:46px;font-size:12px;color:#000;">1.00</div>
<div class="t" style="left:0;top:67px;width:100px;height:33px;background:linear-gradient(#da2a2a,#b20303);border-top:1px solid #b40000;box-sizing:border-box;"></div>
<div class="t" style="left:102px;top:67px;width:108px;height:33px;background:linear-gradient(#da2a2a,#b20303);border-top:1px solid #b40000;box-sizing:border-box;"></div>
<div class="t" style="left:7px;top:84px;font-size:12.4px;font-weight:bold;color:#fff;">27096</div><div class="t" style="left:7px;top:84px;font-size:12.4px;font-weight:bold;color:#fff;"></div><div class="t" style="left:46px;top:91px;width:4px;height:4px;background:#fff;border-radius:1.6px;"></div>
<div class="t" style="left:51.5px;top:63.5px;font-size:34.2px;transform:scaleX(0.96);transform-origin:left top;color:#fff;">0</div>
<div class="t" style="left:117px;top:84px;font-size:12.4px;font-weight:bold;color:#fff;">27119</div><div class="t" style="left:157px;top:91px;width:4px;height:4px;background:#fff;border-radius:1.6px;"></div>
<div class="t" style="left:162.5px;top:63.5px;font-size:34.2px;transform:scaleX(0.96);transform-origin:left top;color:#fff;">0</div>

</body></html>
